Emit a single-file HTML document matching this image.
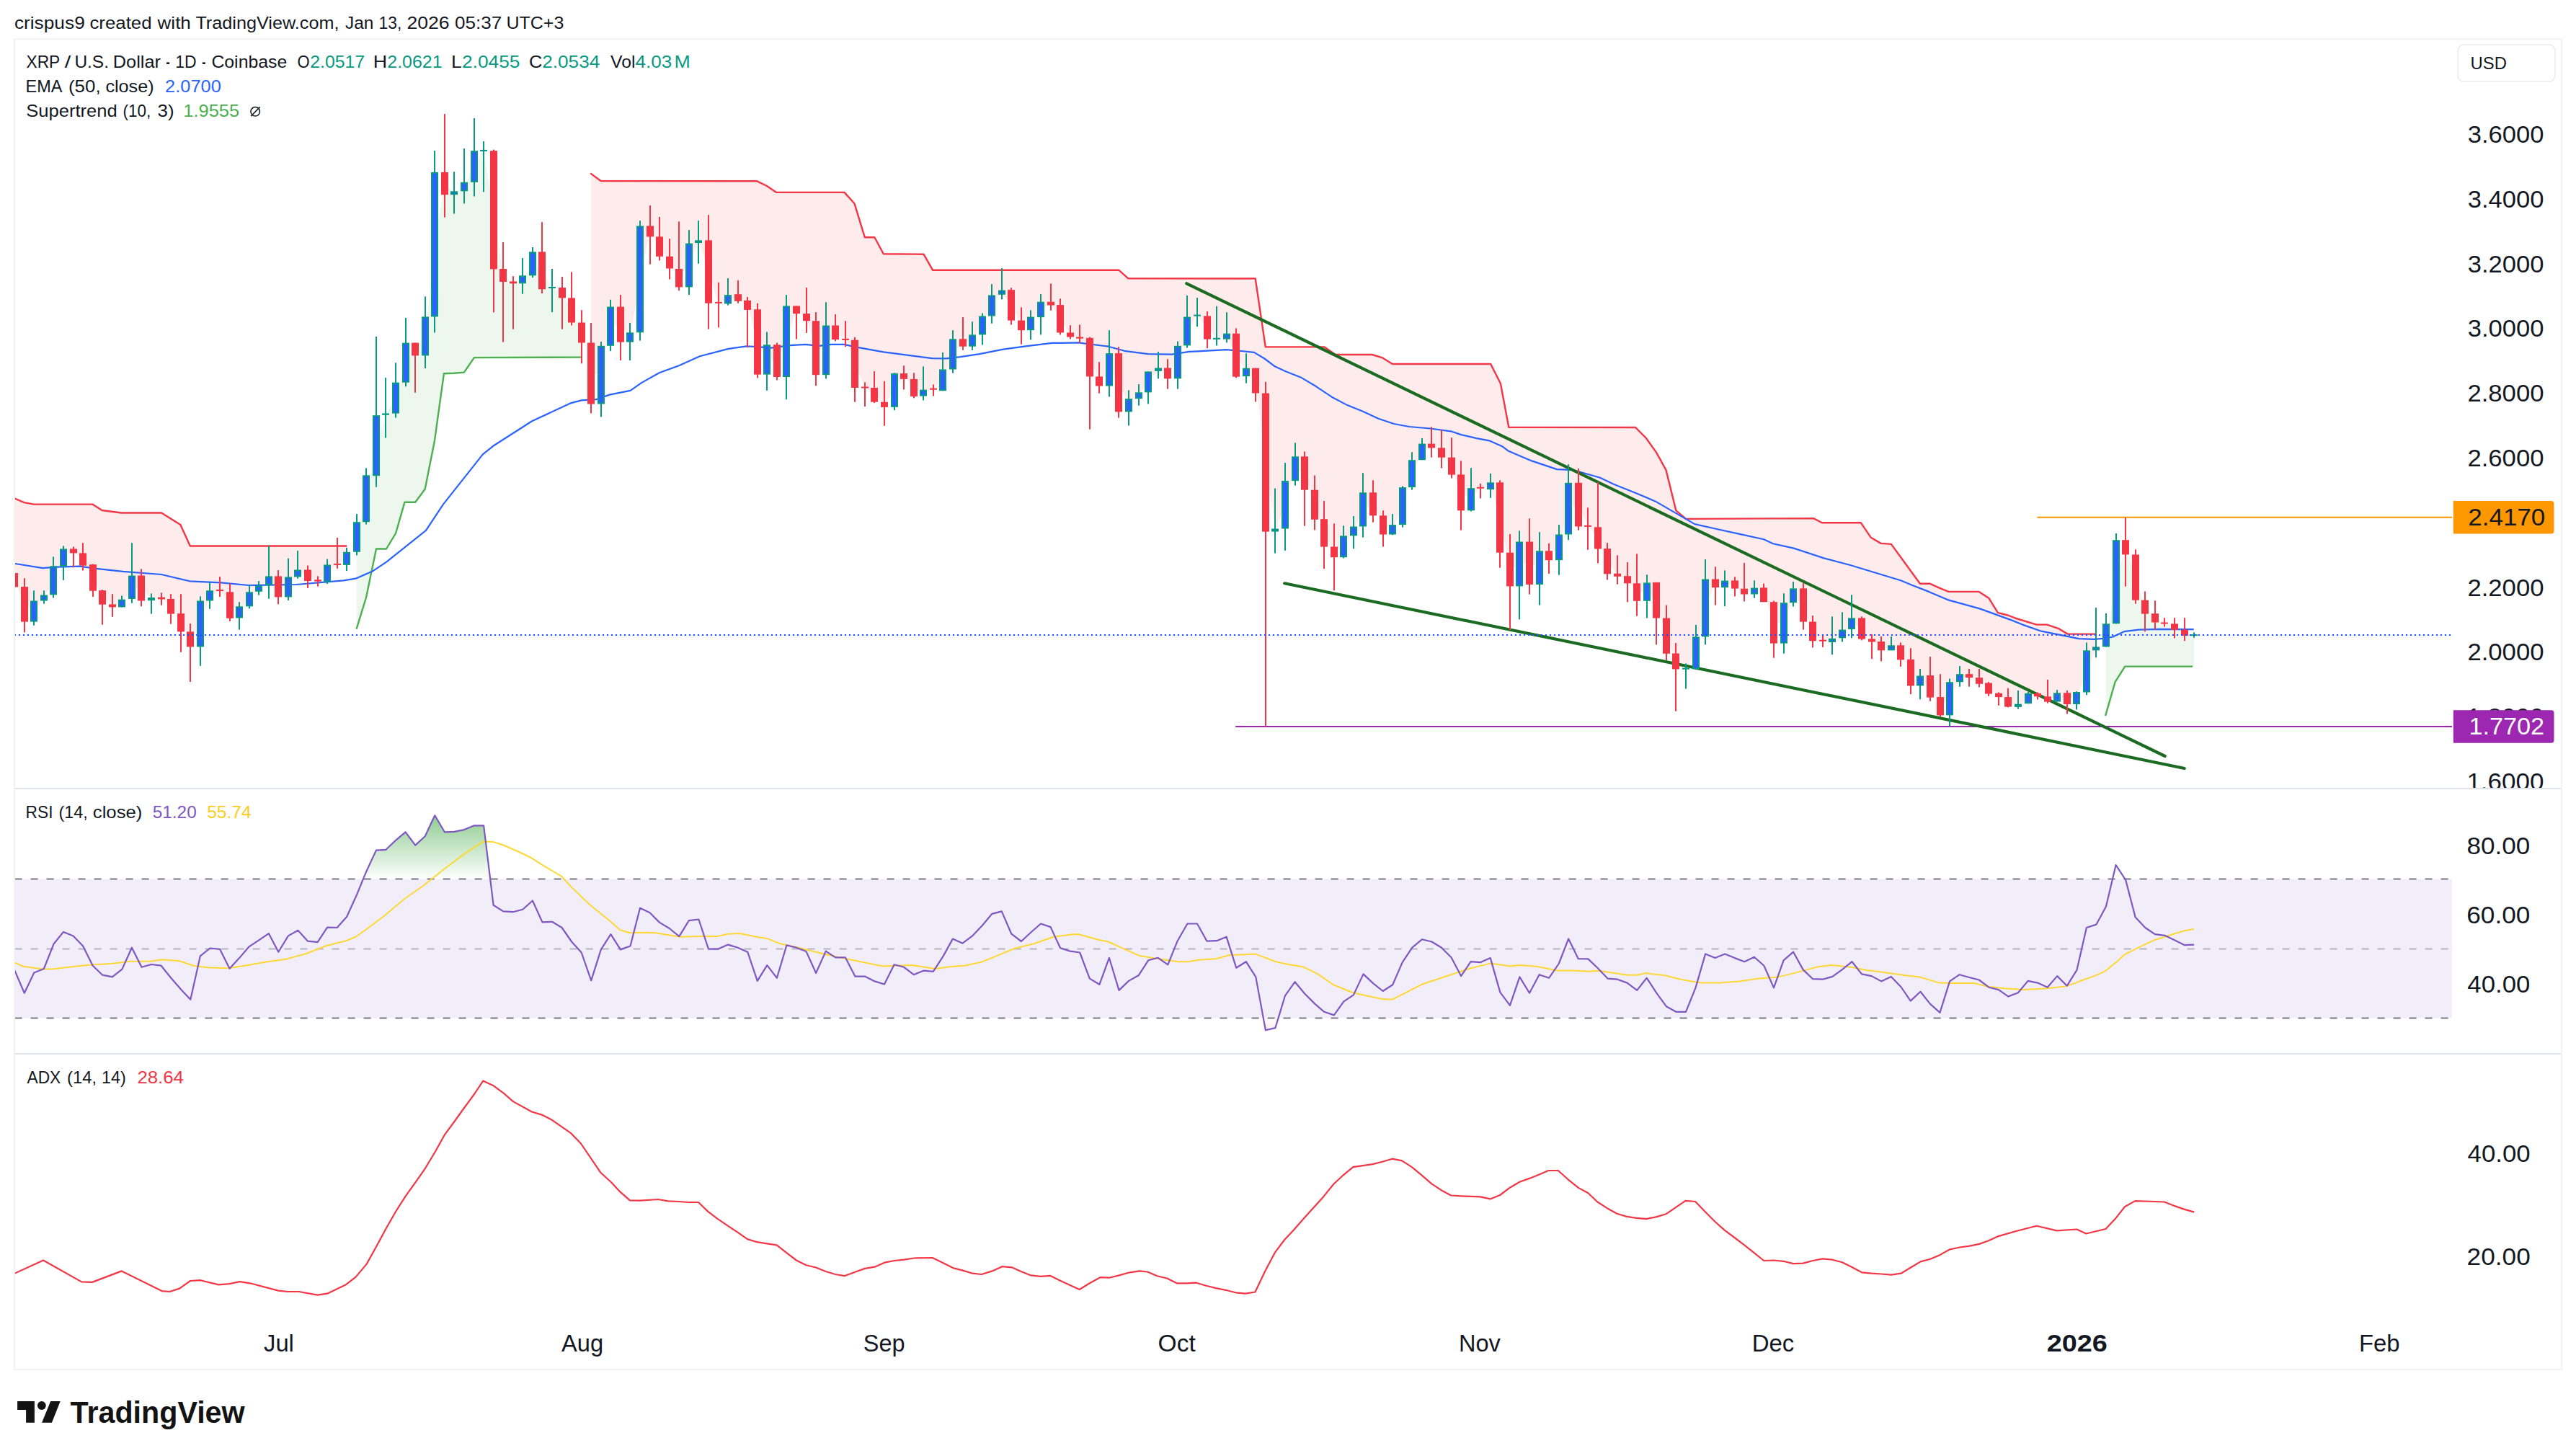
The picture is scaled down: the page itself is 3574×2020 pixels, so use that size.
<!DOCTYPE html><html><head><meta charset="utf-8"><style>html,body{margin:0;padding:0;background:#fff;}body{width:3574px;height:2020px;overflow:hidden;}svg{display:block;font-family:"Liberation Sans",sans-serif;}</style></head><body>
<svg width="3574" height="2020" viewBox="0 0 3574 2020">
<defs>
<clipPath id="cm"><rect x="21" y="55.3" width="3381" height="1037.7"/></clipPath>
<clipPath id="cr"><rect x="21" y="1095" width="3381" height="366"/></clipPath>
<clipPath id="ca"><rect x="21" y="1463" width="3381" height="436"/></clipPath>
<linearGradient id="gob" gradientUnits="userSpaceOnUse" x1="0" y1="1077.5" x2="0" y2="1221.2"><stop offset="0" stop-color="#4CAF50" stop-opacity="1"/><stop offset="1" stop-color="#4CAF50" stop-opacity="0"/></linearGradient>
<linearGradient id="gos" gradientUnits="userSpaceOnUse" x1="0" y1="1412.8" x2="0" y2="1556.5"><stop offset="0" stop-color="#F23645" stop-opacity="0"/><stop offset="1" stop-color="#F23645" stop-opacity="1"/></linearGradient>
<clipPath id="cob"><rect x="0" y="0" width="3574" height="1221.2"/></clipPath>
<clipPath id="cos"><rect x="0" y="1412.8" width="3574" height="400"/></clipPath>
</defs>
<rect width="3574" height="2020" fill="#fff"/>
<text x="19.9" y="39.7" font-size="24" fill="#131722" textLength="97.86" lengthAdjust="spacingAndGlyphs">crispus9</text>
<text x="124.4" y="39.7" font-size="24" fill="#131722" textLength="86.16" lengthAdjust="spacingAndGlyphs">created</text>
<text x="218.6" y="39.7" font-size="24" fill="#131722" textLength="46.25" lengthAdjust="spacingAndGlyphs">with</text>
<text x="271.4" y="39.7" font-size="24" fill="#131722" textLength="199.09" lengthAdjust="spacingAndGlyphs">TradingView.com,</text>
<text x="479.1" y="39.7" font-size="24" fill="#131722" textLength="39.26" lengthAdjust="spacingAndGlyphs">Jan</text>
<text x="525.6" y="39.7" font-size="24" fill="#131722" textLength="31.80" lengthAdjust="spacingAndGlyphs">13,</text>
<text x="564.5" y="39.7" font-size="24" fill="#131722" textLength="59.10" lengthAdjust="spacingAndGlyphs">2026</text>
<text x="631.1" y="39.7" font-size="24" fill="#131722" textLength="65.23" lengthAdjust="spacingAndGlyphs">05:37</text>
<text x="702.4" y="39.7" font-size="24" fill="#131722" textLength="79.93" lengthAdjust="spacingAndGlyphs">UTC+3</text>
<rect x="20" y="54.3" width="3534" height="1845.7" fill="none" stroke="#F2F2F2" stroke-width="2"/>
<g clip-path="url(#cm)">
<polygon points="20.2,691.4 33.8,697.1 47.3,699.6 60.9,699.6 74.4,699.6 88,699.6 101.6,699.6 115.1,699.6 128.7,699.9 142.2,708.1 155.8,709.9 169.4,711.5 182.9,711.5 196.5,711.5 210,711.5 223.6,711.5 237.2,719.7 250.7,728.7 264.3,757.5 277.8,757.5 291.4,757.5 305,757.5 318.5,757.5 332.1,757.5 345.6,757.5 359.2,757.5 372.8,757.5 386.3,757.5 399.9,757.5 413.4,757.5 427,757.5 440.6,757.5 454.1,757.5 467.7,757.5 481.2,757.5 481.2,774.8 467.7,782.9 454.1,795.5 440.6,805.5 427,798.2 413.4,795.5 399.9,814.4 386.3,813.9 372.8,805.6 359.2,816.7 345.6,831.3 332.1,849.3 318.5,839.5 305,819 291.4,826.4 277.8,865.5 264.3,886.9 250.7,863.8 237.2,841.3 223.6,830 210,831 196.5,816 182.9,814.8 169.4,837 155.8,840.4 142.2,828.9 128.7,801.5 115.1,776 101.6,764.4 88,773.5 74.4,805.3 60.9,829.5 47.3,848 33.8,838.4 20.2,804.8" fill="#FEECEC"/>
<polygon points="820.2,241.2 833.8,251 847.4,251 860.9,251 874.5,251.1 888,251.1 901.6,251.1 915.2,251.1 928.7,251.1 942.3,251.2 955.8,251.2 969.4,251.2 983,251.2 996.5,251.2 1010.1,251.2 1023.6,251.3 1037.2,251.3 1050.8,251.6 1064.3,258.2 1077.9,266.9 1091.4,266.9 1105,266.9 1118.6,266.9 1132.1,266.9 1145.7,266.9 1159.2,266.9 1172.8,268.3 1186.4,285.3 1199.9,329.2 1213.5,329.3 1227,352.3 1240.6,352.4 1254.2,352.5 1267.7,352.6 1281.3,352.7 1294.8,374.7 1308.4,374.7 1322,374.7 1335.5,374.7 1349.1,374.7 1362.6,374.7 1376.2,374.7 1389.8,374.7 1403.3,374.7 1416.9,374.7 1430.4,374.7 1444,374.7 1457.6,374.7 1471.1,374.7 1484.7,374.7 1498.2,374.7 1511.8,374.7 1525.4,374.7 1538.9,374.7 1552.5,374.9 1566,386.4 1579.6,386.4 1593.2,386.4 1606.7,386.4 1620.3,386.4 1633.8,386.4 1647.4,386.4 1661,386.5 1674.5,386.5 1688.1,386.5 1701.6,386.5 1715.2,386.5 1728.8,386.5 1742.3,390.7 1755.9,481.4 1769.4,481.4 1783,481.4 1796.6,481.4 1810.1,481.4 1823.7,481.4 1837.2,481.4 1850.8,490.6 1864.4,492 1877.9,492 1891.5,492 1905,492.4 1918.6,496.8 1932.2,505 1945.7,505 1959.3,505 1972.8,505 1986.4,505 2000,505 2013.5,505 2027.1,505 2040.6,505 2054.2,505 2067.8,505 2081.3,530.9 2094.9,592.7 2108.4,592.7 2122,592.7 2135.6,592.8 2149.1,592.8 2162.7,592.8 2176.2,592.8 2189.8,592.9 2203.4,592.9 2216.9,592.9 2230.5,592.9 2244,593 2257.6,593 2271.2,595.1 2284.7,609.1 2298.3,628.1 2311.8,653.5 2325.4,708.4 2339,719.7 2352.5,719.8 2366.1,719.8 2379.6,719.7 2393.2,719.7 2406.8,719.6 2420.3,719.5 2433.9,719.5 2447.4,719.4 2461,719.3 2474.6,719.3 2488.1,719.2 2501.7,719.2 2515.2,719.1 2528.8,725.3 2542.4,725.3 2555.9,725.3 2569.5,725.3 2583,727 2596.6,746.2 2610.2,753.9 2623.7,754.9 2637.3,773.2 2650.8,791.8 2664.4,809.7 2678,810 2691.5,816.1 2705.1,820.9 2718.6,820.9 2732.2,820.9 2745.8,820.9 2759.3,829.9 2772.9,850.3 2786.4,853.8 2800,858.8 2813.6,862.9 2827.1,866.6 2840.7,866.8 2854.2,871.3 2867.8,879.1 2881.4,879.6 2894.9,879.6 2908.5,879.6 2908.5,899.8 2894.9,931.4 2881.4,968.5 2867.8,969.1 2854.2,967.5 2840.7,970 2827.1,964 2813.6,969 2800,978.8 2786.4,973.9 2772.9,964.5 2759.3,955 2745.8,944.5 2732.2,937.7 2718.6,940.7 2705.1,969.3 2691.5,979.8 2678,952.3 2664.4,944.5 2650.8,933.1 2637.3,905.3 2623.7,898.8 2610.2,896.2 2596.6,888.5 2583,872 2569.5,865.2 2555.9,879.5 2542.4,888.4 2528.8,888.7 2515.2,875.9 2501.7,839.5 2488.1,826.3 2474.6,864.4 2461,863.9 2447.4,825.3 2433.9,820 2420.3,820.6 2406.8,811 2393.2,810.4 2379.6,809.3 2366.1,843.5 2352.5,905.9 2339,927.7 2325.4,917.5 2311.8,882.1 2298.3,832.7 2284.7,821.1 2271.2,821.5 2257.6,804.2 2244,797.8 2230.5,778.7 2216.9,746.4 2203.4,729.9 2189.8,700.1 2176.2,705.6 2162.7,759.4 2149.1,770.8 2135.6,787.6 2122,781.2 2108.4,782.5 2094.9,790 2081.3,718 2067.8,674.2 2054.2,676.7 2040.6,692.8 2027.1,683.3 2013.5,646.7 2000,628 1986.4,618.5 1972.8,626.9 1959.3,657.2 1945.7,702.1 1932.2,734.8 1918.6,728.4 1905,699.3 1891.5,706.9 1877.9,736.9 1864.4,758.2 1850.8,765.9 1837.2,739.4 1823.7,700.2 1810.1,656.5 1796.6,650.2 1783,700.3 1769.4,735.5 1755.9,641.5 1742.3,528.1 1728.8,516.4 1715.2,492.7 1701.6,466.6 1688.1,469.8 1674.5,454.5 1661,437.6 1647.4,459.5 1633.8,502.5 1620.3,517.9 1606.7,512.7 1593.2,529.9 1579.6,548.8 1566,562.3 1552.5,530.8 1538.9,512.9 1525.4,529 1511.8,495.6 1498.2,468.6 1484.7,464.5 1471.1,442.3 1457.6,421.1 1444,429.4 1430.4,448.9 1416.9,451.4 1403.3,423.4 1389.8,405.7 1376.2,424 1362.6,451.4 1349.1,472.5 1335.5,475.5 1322,491.4 1308.4,527.4 1294.8,539.7 1281.3,545.1 1267.7,538 1254.2,522 1240.6,541.5 1227,561.3 1213.5,547.9 1199.9,537.5 1186.4,504.9 1172.8,470.9 1159.2,461.3 1145.7,485.9 1132.1,482.7 1118.6,440.1 1105,429.8 1091.4,473.7 1077.9,500.6 1064.3,499 1050.8,474.5 1037.2,423.4 1023.6,413 1010.1,415.3 996.5,419.9 983,377 969.4,335.1 955.8,368 942.3,385.7 928.7,364.1 915.2,342.1 901.6,320.9 888,387.4 874.5,468 860.9,450.1 847.4,452.7 833.8,520.1 820.2,518" fill="#FEECEC"/>
<polygon points="494.8,871.9 508.4,827.3 521.9,761.9 535.5,761.5 549,739.9 562.6,696.7 576.2,696.7 589.7,678.4 603.3,609.2 616.8,518.3 630.4,517.8 644,516.5 657.5,496.7 671.1,496.1 684.6,496 698.2,496 711.8,495.9 725.3,495.9 738.9,495.8 752.4,495.8 766,495.7 779.6,495.7 793.1,495.6 806.7,495.6 806.7,461.5 793.1,430.4 779.6,406.2 766,399 752.4,375.4 738.9,365.9 725.3,387.8 711.8,391.9 698.2,382 684.6,291.3 671.1,208.9 657.5,231 644,259.1 630.4,267.8 616.8,254.6 603.3,339.1 589.7,466.4 576.2,484.5 562.6,503.2 549,552.2 535.5,574.6 521.9,618.2 508.4,691.8 494.8,745" fill="#EDF7EE"/>
<polygon points="2922,989.9 2935.6,944.6 2949.2,924.6 2962.7,924.6 2976.3,924.6 2989.8,924.6 3003.4,924.6 3017,924.6 3030.5,924.6 3044.1,924.6 3044.1,881.1 3030.5,877.8 3017,869.5 3003.4,864.5 2989.8,857.4 2976.3,842.1 2962.7,801 2949.2,759.3 2935.6,807.2 2922,881.3" fill="#EDF7EE"/>
<polyline points="20,691.3 33.5,697.1 46.8,699.6 128.2,699.6 141.6,708 168.4,711.5 224,711.5 250.4,728 263.8,757.5 481.2,757.5" fill="none" stroke="#F23645" stroke-width="2.4" stroke-linejoin="round"/>
<polyline points="819.2,240.4 833.6,251 1050.2,251.3 1064,258 1077.2,266.9 1171.5,266.9 1185.4,282.2 1199.8,329.2 1213.4,329.2 1225.8,352.3 1281.5,352.7 1294,374.7 1552.2,374.7 1565.4,386.4 1741.7,386.5 1755.8,481.4 1837.7,481.4 1852.8,492 1903.7,492 1917.4,496.1 1931.8,505 2068.2,505 2081.9,532 2093.3,592.7 2269.1,593 2283.5,607.4 2298,627.6 2311.5,652.1 2325.4,708.4 2339.2,719.9 2516.1,719.1 2527.9,725.3 2581.9,725.3 2595.7,745.7 2609.6,753.9 2623.9,754.9 2663.9,809.7 2677.4,809.7 2690.5,815.7 2703.5,820.9 2745.8,820.9 2759.6,830.1 2771.9,850.1 2785.7,853.5 2795.7,857.5 2825.7,866.6 2840,866.6 2855.7,871.8 2868.7,879.6 2907.5,879.6" fill="none" stroke="#F23645" stroke-width="2.4" stroke-linejoin="round"/>
<polyline points="494.6,872.6 508,829 522,761.5 536,761.5 549,740 561.5,696.7 576.2,696.7 589.7,678.5 603,611.2 615.9,518.3 629.9,517.8 643.9,516.6 657.9,496.1 806.5,495.6" fill="none" stroke="#4CAF50" stroke-width="2.4" stroke-linejoin="round"/>
<polyline points="2921.1,993.2 2934.6,946.2 2948.2,924.6 3042.2,924.6" fill="none" stroke="#4CAF50" stroke-width="2.4" stroke-linejoin="round"/>
<polyline points="21,782 59.2,788.2 79.8,786.7 110.7,785.7 133.4,788.8 170.5,792.9 224,797 263.2,806.3 306.5,808.4 345,812 358,811.9 411,811 476.9,805.3 493.4,802.7 516.4,792.8 536.2,779.6 591,735.8 615,699.6 669.8,630.4 684.2,618.8 738.1,584.2 792.4,559.1 806.8,555.4 827,554.2 845.8,547.6 874.6,541.8 890,531.1 914.6,517.3 942,507.2 970.9,494.2 1009.8,484.1 1035.8,480.4 1050.2,481.2 1070.4,482.7 1096,479.2 1117.6,477.8 1136.3,479.8 1153.6,477.8 1171,477.8 1191.1,482.1 1225.8,488.4 1269.9,494.2 1293,497.1 1312.7,497.4 1332.5,495.2 1358.9,491.2 1391.9,484.6 1424.8,480.2 1460,475.8 1472,475.8 1496.2,475.4 1516,478 1537.9,480.7 1559.9,486.8 1592.9,491.2 1625.8,491.6 1650,487.9 1662,487.3 1701.6,485.1 1722.1,487 1740,488.9 1754.4,497.5 1768.7,508.3 1783.1,515 1804.6,523.4 1826.2,536.3 1847.7,550.7 1869.3,562.1 1890.8,570.8 1912.4,580.8 1933.9,588 1955.5,592 1984.2,594.5 2012.9,598.3 2027.3,603.1 2048.8,608.1 2066.1,611.3 2084.7,619.6 2092.4,625.4 2125.1,639.4 2160.1,651.1 2183.5,652.2 2220,662.8 2238.8,671.7 2270.6,684.4 2296.5,695.4 2325.4,712.1 2351.3,727.1 2383.1,734.3 2410,740.1 2447,748.3 2460,754.3 2488.7,760.6 2530.5,774.4 2567,784 2600,794 2637,805.3 2652.6,811.8 2676.1,820.9 2702.2,832.1 2746.6,844.4 2790,860.1 2806.1,866.6 2832.2,875.7 2858.3,880.9 2884.4,886.2 2905.3,886.9 2920.9,885.6 2931.4,883.5 2947,876.2 2967.5,873.7 2995,872.9 3043.8,873.1" fill="none" stroke="#2962FF" stroke-width="2.2" stroke-linejoin="round"/>
<line x1="2826.4" y1="717.8" x2="3402" y2="717.8" stroke="#FF9800" stroke-width="2"/>
<line x1="1714.2" y1="1008" x2="3402" y2="1008" stroke="#9C27B0" stroke-width="2.2"/>
<line x1="1646.3" y1="393.3" x2="3003.7" y2="1049" stroke="#1B6B22" stroke-width="4.2" stroke-linecap="round"/>
<line x1="1782.2" y1="809.3" x2="3030.7" y2="1066" stroke="#1B6B22" stroke-width="4.2" stroke-linecap="round"/>
<rect x="19" y="790" width="2" height="28" fill="#F23645"/>
<rect x="15" y="795" width="10" height="19.5" fill="#F23645"/>
<rect x="33" y="802.2" width="2" height="75.2" fill="#F23645"/>
<rect x="29" y="814.1" width="10" height="48.5" fill="#F23645"/>
<rect x="46" y="819.3" width="2" height="48.4" fill="#089981"/>
<rect x="42" y="833.5" width="10" height="29.1" fill="#089981"/>
<rect x="44" y="835.5" width="6" height="25.1" fill="#2962FF"/>
<rect x="60" y="819.3" width="2" height="18.3" fill="#089981"/>
<rect x="56" y="825.5" width="10" height="8" fill="#089981"/>
<rect x="58" y="827.5" width="6" height="4" fill="#2962FF"/>
<rect x="73" y="772.3" width="2" height="57.1" fill="#089981"/>
<rect x="69" y="785.3" width="10" height="40" fill="#089981"/>
<rect x="71" y="787.3" width="6" height="36" fill="#2962FF"/>
<rect x="87" y="757.3" width="2" height="47.6" fill="#089981"/>
<rect x="83" y="761.4" width="10" height="24.3" fill="#089981"/>
<rect x="85" y="763.4" width="6" height="20.3" fill="#2962FF"/>
<rect x="101" y="758.5" width="2" height="28.8" fill="#F23645"/>
<rect x="97" y="761.4" width="10" height="6" fill="#F23645"/>
<rect x="114" y="753.3" width="2" height="38.2" fill="#F23645"/>
<rect x="110" y="767.4" width="10" height="17.3" fill="#F23645"/>
<rect x="128" y="782.6" width="2" height="45.3" fill="#F23645"/>
<rect x="124" y="783.2" width="10" height="36.5" fill="#F23645"/>
<rect x="141" y="818.3" width="2" height="48.4" fill="#F23645"/>
<rect x="137" y="819.1" width="10" height="19.6" fill="#F23645"/>
<rect x="155" y="824.2" width="2" height="31.6" fill="#F23645"/>
<rect x="151" y="838.4" width="10" height="4" fill="#F23645"/>
<rect x="168" y="826.5" width="2" height="15.9" fill="#089981"/>
<rect x="164" y="831.6" width="10" height="10.8" fill="#089981"/>
<rect x="166" y="833.6" width="6" height="6.8" fill="#2962FF"/>
<rect x="182" y="753.3" width="2" height="83.3" fill="#089981"/>
<rect x="178" y="798.5" width="10" height="32.5" fill="#089981"/>
<rect x="180" y="800.5" width="6" height="28.5" fill="#2962FF"/>
<rect x="195" y="789.4" width="2" height="51.9" fill="#F23645"/>
<rect x="191" y="798.5" width="10" height="35" fill="#F23645"/>
<rect x="209" y="823.4" width="2" height="28.2" fill="#089981"/>
<rect x="205" y="829" width="10" height="4.1" fill="#089981"/>
<rect x="207" y="831" width="6" height="0.1" fill="#2962FF"/>
<rect x="223" y="822.4" width="2" height="17.3" fill="#F23645"/>
<rect x="219" y="828.6" width="10" height="2.8" fill="#F23645"/>
<rect x="236" y="824.2" width="2" height="41.4" fill="#F23645"/>
<rect x="232" y="831" width="10" height="20.6" fill="#F23645"/>
<rect x="250" y="824.2" width="2" height="80.6" fill="#F23645"/>
<rect x="246" y="851.2" width="10" height="25.2" fill="#F23645"/>
<rect x="263" y="865" width="2" height="81" fill="#F23645"/>
<rect x="259" y="876.4" width="10" height="21" fill="#F23645"/>
<rect x="277" y="827.3" width="2" height="96.5" fill="#089981"/>
<rect x="273" y="833.5" width="10" height="63.9" fill="#089981"/>
<rect x="275" y="835.5" width="6" height="59.9" fill="#2962FF"/>
<rect x="290" y="808" width="2" height="36.8" fill="#089981"/>
<rect x="286" y="819.3" width="10" height="14.2" fill="#089981"/>
<rect x="288" y="821.3" width="6" height="10.2" fill="#2962FF"/>
<rect x="304" y="800.1" width="2" height="27.8" fill="#F23645"/>
<rect x="300" y="818" width="10" height="2" fill="#F23645"/>
<rect x="318" y="809.4" width="2" height="52.6" fill="#F23645"/>
<rect x="314" y="821.3" width="10" height="36.5" fill="#F23645"/>
<rect x="331" y="835.2" width="2" height="38.5" fill="#089981"/>
<rect x="327" y="841.3" width="10" height="16.1" fill="#089981"/>
<rect x="329" y="843.3" width="6" height="12.1" fill="#2962FF"/>
<rect x="345" y="811.5" width="2" height="32.9" fill="#089981"/>
<rect x="341" y="821.3" width="10" height="20" fill="#089981"/>
<rect x="343" y="823.3" width="6" height="16" fill="#2962FF"/>
<rect x="358" y="806" width="2" height="19.7" fill="#089981"/>
<rect x="354" y="812.6" width="10" height="8.2" fill="#089981"/>
<rect x="356" y="814.6" width="6" height="4.2" fill="#2962FF"/>
<rect x="372" y="757.2" width="2" height="73.5" fill="#089981"/>
<rect x="368" y="799.4" width="10" height="12.5" fill="#089981"/>
<rect x="370" y="801.4" width="6" height="8.5" fill="#2962FF"/>
<rect x="385" y="791.1" width="2" height="47.2" fill="#F23645"/>
<rect x="381" y="799.4" width="10" height="29" fill="#F23645"/>
<rect x="399" y="774.6" width="2" height="58.4" fill="#089981"/>
<rect x="395" y="800.4" width="10" height="28" fill="#089981"/>
<rect x="397" y="802.4" width="6" height="24" fill="#2962FF"/>
<rect x="412" y="764.1" width="2" height="38.6" fill="#089981"/>
<rect x="408" y="790.5" width="10" height="9.9" fill="#089981"/>
<rect x="410" y="792.5" width="6" height="5.9" fill="#2962FF"/>
<rect x="426" y="784.5" width="2" height="31.4" fill="#F23645"/>
<rect x="422" y="790.5" width="10" height="15.5" fill="#F23645"/>
<rect x="440" y="799.4" width="2" height="14.2" fill="#F23645"/>
<rect x="436" y="804.3" width="10" height="2.3" fill="#F23645"/>
<rect x="453" y="775.6" width="2" height="34.4" fill="#089981"/>
<rect x="449" y="783.5" width="10" height="24.1" fill="#089981"/>
<rect x="451" y="785.5" width="6" height="20.1" fill="#2962FF"/>
<rect x="467" y="746" width="2" height="42.8" fill="#F23645"/>
<rect x="463" y="781.9" width="10" height="2" fill="#F23645"/>
<rect x="480" y="759.8" width="2" height="32.3" fill="#089981"/>
<rect x="476" y="765.8" width="10" height="18.1" fill="#089981"/>
<rect x="478" y="767.8" width="6" height="14.1" fill="#2962FF"/>
<rect x="494" y="713" width="2" height="57.4" fill="#089981"/>
<rect x="490" y="724.2" width="10" height="41.6" fill="#089981"/>
<rect x="492" y="726.2" width="6" height="37.6" fill="#2962FF"/>
<rect x="507" y="649.4" width="2" height="78.1" fill="#089981"/>
<rect x="503" y="659.3" width="10" height="64.9" fill="#089981"/>
<rect x="505" y="661.3" width="6" height="60.9" fill="#2962FF"/>
<rect x="521" y="467" width="2" height="208.7" fill="#089981"/>
<rect x="517" y="576.2" width="10" height="84" fill="#089981"/>
<rect x="519" y="578.2" width="6" height="80" fill="#2962FF"/>
<rect x="534" y="524.1" width="2" height="83.4" fill="#089981"/>
<rect x="530" y="573.5" width="10" height="2.3" fill="#089981"/>
<rect x="548" y="503.3" width="2" height="76.2" fill="#089981"/>
<rect x="544" y="530.7" width="10" height="42.9" fill="#089981"/>
<rect x="546" y="532.7" width="6" height="38.9" fill="#2962FF"/>
<rect x="562" y="441" width="2" height="95.3" fill="#089981"/>
<rect x="558" y="475.6" width="10" height="55.1" fill="#089981"/>
<rect x="560" y="477.6" width="6" height="51.1" fill="#2962FF"/>
<rect x="575" y="475.6" width="2" height="69.3" fill="#F23645"/>
<rect x="571" y="475.6" width="10" height="17.8" fill="#F23645"/>
<rect x="589" y="411.3" width="2" height="99.7" fill="#089981"/>
<rect x="585" y="439.4" width="10" height="54" fill="#089981"/>
<rect x="587" y="441.4" width="6" height="50" fill="#2962FF"/>
<rect x="602" y="209.2" width="2" height="252.3" fill="#089981"/>
<rect x="598" y="238.9" width="10" height="200.5" fill="#089981"/>
<rect x="600" y="240.9" width="6" height="196.5" fill="#2962FF"/>
<rect x="616" y="158.1" width="2" height="143.5" fill="#F23645"/>
<rect x="612" y="238.9" width="10" height="31.3" fill="#F23645"/>
<rect x="629" y="238.3" width="2" height="58.3" fill="#089981"/>
<rect x="625" y="265.3" width="10" height="4.9" fill="#089981"/>
<rect x="627" y="267.3" width="6" height="0.9" fill="#2962FF"/>
<rect x="643" y="206" width="2" height="76.4" fill="#089981"/>
<rect x="639" y="252.8" width="10" height="12.5" fill="#089981"/>
<rect x="641" y="254.8" width="6" height="8.5" fill="#2962FF"/>
<rect x="657" y="164" width="2" height="108.5" fill="#089981"/>
<rect x="653" y="209.2" width="10" height="43.6" fill="#089981"/>
<rect x="655" y="211.2" width="6" height="39.6" fill="#2962FF"/>
<rect x="670" y="196" width="2" height="70.3" fill="#089981"/>
<rect x="666" y="207.9" width="10" height="2" fill="#089981"/>
<rect x="684" y="207.6" width="2" height="225.8" fill="#F23645"/>
<rect x="680" y="209.2" width="10" height="164.2" fill="#F23645"/>
<rect x="697" y="336.1" width="2" height="138.5" fill="#F23645"/>
<rect x="693" y="373" width="10" height="18" fill="#F23645"/>
<rect x="711" y="383.2" width="2" height="73.5" fill="#F23645"/>
<rect x="707" y="390.4" width="10" height="2.9" fill="#F23645"/>
<rect x="724" y="358" width="2" height="49.7" fill="#089981"/>
<rect x="720" y="382.3" width="10" height="11" fill="#089981"/>
<rect x="722" y="384.3" width="6" height="7" fill="#2962FF"/>
<rect x="738" y="343" width="2" height="42.2" fill="#089981"/>
<rect x="734" y="349.4" width="10" height="32.9" fill="#089981"/>
<rect x="736" y="351.4" width="6" height="28.9" fill="#2962FF"/>
<rect x="751" y="308.2" width="2" height="98.9" fill="#F23645"/>
<rect x="747" y="349.4" width="10" height="51.9" fill="#F23645"/>
<rect x="765" y="373" width="2" height="60.1" fill="#089981"/>
<rect x="761" y="398" width="10" height="2" fill="#089981"/>
<rect x="779" y="384" width="2" height="72.7" fill="#F23645"/>
<rect x="775" y="399" width="10" height="14.4" fill="#F23645"/>
<rect x="792" y="377.4" width="2" height="74.1" fill="#F23645"/>
<rect x="788" y="413.4" width="10" height="34.1" fill="#F23645"/>
<rect x="806" y="430.2" width="2" height="74.1" fill="#F23645"/>
<rect x="802" y="447.5" width="10" height="28" fill="#F23645"/>
<rect x="819" y="448" width="2" height="125.5" fill="#F23645"/>
<rect x="815" y="475.5" width="10" height="85" fill="#F23645"/>
<rect x="833" y="474" width="2" height="104.4" fill="#089981"/>
<rect x="829" y="479.8" width="10" height="80.7" fill="#089981"/>
<rect x="831" y="481.8" width="6" height="76.7" fill="#2962FF"/>
<rect x="846" y="415.7" width="2" height="71.3" fill="#089981"/>
<rect x="842" y="425.6" width="10" height="54.2" fill="#089981"/>
<rect x="844" y="427.6" width="6" height="50.2" fill="#2962FF"/>
<rect x="860" y="409.1" width="2" height="90.9" fill="#F23645"/>
<rect x="856" y="425.6" width="10" height="49" fill="#F23645"/>
<rect x="873" y="448" width="2" height="52" fill="#089981"/>
<rect x="869" y="461.3" width="10" height="13.3" fill="#089981"/>
<rect x="871" y="463.3" width="6" height="9.3" fill="#2962FF"/>
<rect x="887" y="306.1" width="2" height="166.5" fill="#089981"/>
<rect x="883" y="313.4" width="10" height="147.9" fill="#089981"/>
<rect x="885" y="315.4" width="6" height="143.9" fill="#2962FF"/>
<rect x="901" y="285.1" width="2" height="81.6" fill="#F23645"/>
<rect x="897" y="313.4" width="10" height="15" fill="#F23645"/>
<rect x="914" y="301" width="2" height="60.5" fill="#F23645"/>
<rect x="910" y="328.4" width="10" height="27.4" fill="#F23645"/>
<rect x="928" y="331.2" width="2" height="56.3" fill="#F23645"/>
<rect x="924" y="355.8" width="10" height="16.7" fill="#F23645"/>
<rect x="941" y="307.3" width="2" height="96" fill="#F23645"/>
<rect x="937" y="373" width="10" height="25.4" fill="#F23645"/>
<rect x="955" y="319.1" width="2" height="90" fill="#089981"/>
<rect x="951" y="337.6" width="10" height="60.8" fill="#089981"/>
<rect x="953" y="339.6" width="6" height="56.8" fill="#2962FF"/>
<rect x="968" y="306.1" width="2" height="59.7" fill="#089981"/>
<rect x="964" y="333.3" width="10" height="3.7" fill="#089981"/>
<rect x="982" y="298.1" width="2" height="158.6" fill="#F23645"/>
<rect x="978" y="333.3" width="10" height="87.4" fill="#F23645"/>
<rect x="996" y="391.8" width="2" height="62.6" fill="#F23645"/>
<rect x="992" y="418.9" width="10" height="2" fill="#F23645"/>
<rect x="1009" y="386" width="2" height="37.5" fill="#089981"/>
<rect x="1005" y="409.1" width="10" height="12.4" fill="#089981"/>
<rect x="1007" y="411.1" width="6" height="8.4" fill="#2962FF"/>
<rect x="1023" y="388.9" width="2" height="31.8" fill="#F23645"/>
<rect x="1019" y="408.2" width="10" height="9.6" fill="#F23645"/>
<rect x="1036" y="412" width="2" height="70.1" fill="#F23645"/>
<rect x="1032" y="416.9" width="10" height="13" fill="#F23645"/>
<rect x="1050" y="420.7" width="2" height="103.8" fill="#F23645"/>
<rect x="1046" y="429.3" width="10" height="90.3" fill="#F23645"/>
<rect x="1063" y="460.5" width="2" height="81.3" fill="#089981"/>
<rect x="1059" y="478.3" width="10" height="41.3" fill="#089981"/>
<rect x="1061" y="480.3" width="6" height="37.3" fill="#2962FF"/>
<rect x="1077" y="475.5" width="2" height="51.9" fill="#F23645"/>
<rect x="1073" y="478.3" width="10" height="44.7" fill="#F23645"/>
<rect x="1090" y="409.1" width="2" height="145.1" fill="#089981"/>
<rect x="1086" y="424.4" width="10" height="98.6" fill="#089981"/>
<rect x="1088" y="426.4" width="6" height="94.6" fill="#2962FF"/>
<rect x="1104" y="424.4" width="2" height="46.1" fill="#F23645"/>
<rect x="1100" y="424.4" width="10" height="10.7" fill="#F23645"/>
<rect x="1118" y="399" width="2" height="62.9" fill="#F23645"/>
<rect x="1114" y="435.1" width="10" height="10.1" fill="#F23645"/>
<rect x="1131" y="433.1" width="2" height="102.1" fill="#F23645"/>
<rect x="1127" y="445.2" width="10" height="75" fill="#F23645"/>
<rect x="1145" y="419.2" width="2" height="106.2" fill="#089981"/>
<rect x="1141" y="451.5" width="10" height="68.7" fill="#089981"/>
<rect x="1143" y="453.5" width="6" height="64.7" fill="#2962FF"/>
<rect x="1158" y="436" width="2" height="37.4" fill="#F23645"/>
<rect x="1154" y="451.5" width="10" height="19.6" fill="#F23645"/>
<rect x="1172" y="445.2" width="2" height="36" fill="#F23645"/>
<rect x="1168" y="469.9" width="10" height="2" fill="#F23645"/>
<rect x="1185" y="467.7" width="2" height="90" fill="#F23645"/>
<rect x="1181" y="471.7" width="10" height="66.3" fill="#F23645"/>
<rect x="1199" y="530.3" width="2" height="33.7" fill="#F23645"/>
<rect x="1195" y="536.5" width="10" height="2" fill="#F23645"/>
<rect x="1212" y="515" width="2" height="44.1" fill="#F23645"/>
<rect x="1208" y="538" width="10" height="19.7" fill="#F23645"/>
<rect x="1226" y="528.8" width="2" height="62" fill="#F23645"/>
<rect x="1222" y="557.7" width="10" height="7.2" fill="#F23645"/>
<rect x="1240" y="517.3" width="2" height="51.9" fill="#089981"/>
<rect x="1236" y="518.1" width="10" height="46.8" fill="#089981"/>
<rect x="1238" y="520.1" width="6" height="42.8" fill="#2962FF"/>
<rect x="1253" y="507.2" width="2" height="33.2" fill="#F23645"/>
<rect x="1249" y="518.1" width="10" height="7.8" fill="#F23645"/>
<rect x="1267" y="517.3" width="2" height="35" fill="#F23645"/>
<rect x="1263" y="525.9" width="10" height="24.2" fill="#F23645"/>
<rect x="1280" y="508.4" width="2" height="47" fill="#089981"/>
<rect x="1276" y="540.7" width="10" height="8.8" fill="#089981"/>
<rect x="1278" y="542.7" width="6" height="4.8" fill="#2962FF"/>
<rect x="1294" y="533.4" width="2" height="16.1" fill="#F23645"/>
<rect x="1290" y="538.7" width="10" height="2" fill="#F23645"/>
<rect x="1307" y="489" width="2" height="53.2" fill="#089981"/>
<rect x="1303" y="512.5" width="10" height="29.7" fill="#089981"/>
<rect x="1305" y="514.5" width="6" height="25.7" fill="#2962FF"/>
<rect x="1321" y="458.2" width="2" height="59.4" fill="#089981"/>
<rect x="1317" y="470.3" width="10" height="42.2" fill="#089981"/>
<rect x="1319" y="472.3" width="6" height="38.2" fill="#2962FF"/>
<rect x="1335" y="440.2" width="2" height="45.5" fill="#F23645"/>
<rect x="1331" y="470.3" width="10" height="10.4" fill="#F23645"/>
<rect x="1348" y="446.2" width="2" height="39.5" fill="#089981"/>
<rect x="1344" y="464.4" width="10" height="16.3" fill="#089981"/>
<rect x="1346" y="466.4" width="6" height="12.3" fill="#2962FF"/>
<rect x="1362" y="434.5" width="2" height="44" fill="#089981"/>
<rect x="1358" y="438.5" width="10" height="25.9" fill="#089981"/>
<rect x="1360" y="440.5" width="6" height="21.9" fill="#2962FF"/>
<rect x="1375" y="394.1" width="2" height="54.7" fill="#089981"/>
<rect x="1371" y="409.5" width="10" height="29" fill="#089981"/>
<rect x="1373" y="411.5" width="6" height="25" fill="#2962FF"/>
<rect x="1389" y="372.1" width="2" height="43.3" fill="#089981"/>
<rect x="1385" y="402.6" width="10" height="6.2" fill="#089981"/>
<rect x="1387" y="404.6" width="6" height="2.2" fill="#2962FF"/>
<rect x="1402" y="399.3" width="2" height="51.2" fill="#F23645"/>
<rect x="1398" y="402.2" width="10" height="42.4" fill="#F23645"/>
<rect x="1416" y="426.4" width="2" height="51.2" fill="#F23645"/>
<rect x="1412" y="444.6" width="10" height="13.6" fill="#F23645"/>
<rect x="1429" y="430.3" width="2" height="41.1" fill="#089981"/>
<rect x="1425" y="439.6" width="10" height="18.6" fill="#089981"/>
<rect x="1427" y="441.6" width="6" height="14.6" fill="#2962FF"/>
<rect x="1443" y="408.1" width="2" height="56.3" fill="#089981"/>
<rect x="1439" y="418.7" width="10" height="21.5" fill="#089981"/>
<rect x="1441" y="420.7" width="6" height="17.5" fill="#2962FF"/>
<rect x="1457" y="393.4" width="2" height="37.4" fill="#F23645"/>
<rect x="1453" y="418.7" width="10" height="4.8" fill="#F23645"/>
<rect x="1470" y="414.3" width="2" height="50.1" fill="#F23645"/>
<rect x="1466" y="423.1" width="10" height="38.4" fill="#F23645"/>
<rect x="1484" y="451.2" width="2" height="19.1" fill="#F23645"/>
<rect x="1480" y="461.5" width="10" height="6" fill="#F23645"/>
<rect x="1497" y="450.5" width="2" height="25.8" fill="#F23645"/>
<rect x="1493" y="467.5" width="10" height="2.2" fill="#F23645"/>
<rect x="1511" y="467.5" width="2" height="128.1" fill="#F23645"/>
<rect x="1507" y="468.8" width="10" height="53.6" fill="#F23645"/>
<rect x="1524" y="502.2" width="2" height="43.5" fill="#F23645"/>
<rect x="1520" y="522.4" width="10" height="13.2" fill="#F23645"/>
<rect x="1538" y="458.2" width="2" height="92.3" fill="#089981"/>
<rect x="1534" y="490.1" width="10" height="45.5" fill="#089981"/>
<rect x="1536" y="492.1" width="6" height="41.5" fill="#2962FF"/>
<rect x="1551" y="481.3" width="2" height="98.3" fill="#F23645"/>
<rect x="1547" y="490.1" width="10" height="81.3" fill="#F23645"/>
<rect x="1565" y="541.3" width="2" height="49.2" fill="#089981"/>
<rect x="1561" y="553.2" width="10" height="18.2" fill="#089981"/>
<rect x="1563" y="555.2" width="6" height="14.2" fill="#2962FF"/>
<rect x="1579" y="533" width="2" height="29.6" fill="#089981"/>
<rect x="1575" y="544.4" width="10" height="8.8" fill="#089981"/>
<rect x="1577" y="546.4" width="6" height="4.8" fill="#2962FF"/>
<rect x="1592" y="515.4" width="2" height="45" fill="#089981"/>
<rect x="1588" y="515.4" width="10" height="29" fill="#089981"/>
<rect x="1590" y="517.4" width="6" height="25" fill="#2962FF"/>
<rect x="1606" y="487.9" width="2" height="37.4" fill="#089981"/>
<rect x="1602" y="510.5" width="10" height="4.4" fill="#089981"/>
<rect x="1604" y="512.5" width="6" height="0.4" fill="#2962FF"/>
<rect x="1619" y="498.2" width="2" height="41.4" fill="#F23645"/>
<rect x="1615" y="510.5" width="10" height="14.8" fill="#F23645"/>
<rect x="1633" y="473.6" width="2" height="66" fill="#089981"/>
<rect x="1629" y="479.8" width="10" height="45.5" fill="#089981"/>
<rect x="1631" y="481.8" width="6" height="41.5" fill="#2962FF"/>
<rect x="1646" y="409.9" width="2" height="72.7" fill="#089981"/>
<rect x="1642" y="439.6" width="10" height="39.8" fill="#089981"/>
<rect x="1644" y="441.6" width="6" height="35.8" fill="#2962FF"/>
<rect x="1660" y="413.1" width="2" height="40.1" fill="#089981"/>
<rect x="1656" y="436.6" width="10" height="2" fill="#089981"/>
<rect x="1674" y="432" width="2" height="51.2" fill="#F23645"/>
<rect x="1670" y="438.4" width="10" height="32.2" fill="#F23645"/>
<rect x="1687" y="424.8" width="2" height="54.6" fill="#089981"/>
<rect x="1683" y="468.8" width="10" height="2" fill="#089981"/>
<rect x="1701" y="433.3" width="2" height="42" fill="#089981"/>
<rect x="1697" y="462.7" width="10" height="7.9" fill="#089981"/>
<rect x="1699" y="464.7" width="6" height="3.9" fill="#2962FF"/>
<rect x="1714" y="455.4" width="2" height="68.9" fill="#F23645"/>
<rect x="1710" y="462.7" width="10" height="60" fill="#F23645"/>
<rect x="1728" y="490.2" width="2" height="41.4" fill="#089981"/>
<rect x="1724" y="510.7" width="10" height="11.4" fill="#089981"/>
<rect x="1726" y="512.7" width="6" height="7.4" fill="#2962FF"/>
<rect x="1741" y="510.7" width="2" height="46.8" fill="#F23645"/>
<rect x="1737" y="510.7" width="10" height="34.8" fill="#F23645"/>
<rect x="1755" y="529.7" width="2" height="478.3" fill="#F23645"/>
<rect x="1751" y="545.5" width="10" height="192.1" fill="#F23645"/>
<rect x="1768" y="677.5" width="2" height="90.1" fill="#089981"/>
<rect x="1764" y="733.5" width="10" height="4.1" fill="#089981"/>
<rect x="1766" y="735.5" width="6" height="0.1" fill="#2962FF"/>
<rect x="1782" y="642.1" width="2" height="121.7" fill="#089981"/>
<rect x="1778" y="667.1" width="10" height="66.4" fill="#089981"/>
<rect x="1780" y="669.1" width="6" height="62.4" fill="#2962FF"/>
<rect x="1796" y="614.3" width="2" height="59.4" fill="#089981"/>
<rect x="1792" y="633.3" width="10" height="33.8" fill="#089981"/>
<rect x="1794" y="635.3" width="6" height="29.8" fill="#2962FF"/>
<rect x="1809" y="626.4" width="2" height="103.3" fill="#F23645"/>
<rect x="1805" y="633.3" width="10" height="46.4" fill="#F23645"/>
<rect x="1823" y="659.5" width="2" height="75.9" fill="#F23645"/>
<rect x="1819" y="679.7" width="10" height="41.1" fill="#F23645"/>
<rect x="1836" y="695" width="2" height="94" fill="#F23645"/>
<rect x="1832" y="720.2" width="10" height="38.4" fill="#F23645"/>
<rect x="1850" y="726.3" width="2" height="92.9" fill="#F23645"/>
<rect x="1846" y="758.5" width="10" height="14.7" fill="#F23645"/>
<rect x="1863" y="729.3" width="2" height="45.1" fill="#089981"/>
<rect x="1859" y="743.3" width="10" height="29.9" fill="#089981"/>
<rect x="1861" y="745.3" width="6" height="25.9" fill="#2962FF"/>
<rect x="1877" y="716" width="2" height="45.3" fill="#089981"/>
<rect x="1873" y="730.5" width="10" height="12.8" fill="#089981"/>
<rect x="1875" y="732.5" width="6" height="8.8" fill="#2962FF"/>
<rect x="1890" y="656.2" width="2" height="89.5" fill="#089981"/>
<rect x="1886" y="683.3" width="10" height="47.2" fill="#089981"/>
<rect x="1888" y="685.3" width="6" height="43.2" fill="#2962FF"/>
<rect x="1904" y="666.3" width="2" height="58.3" fill="#F23645"/>
<rect x="1900" y="683.3" width="10" height="32" fill="#F23645"/>
<rect x="1918" y="708.3" width="2" height="50.2" fill="#F23645"/>
<rect x="1914" y="715.3" width="10" height="26.2" fill="#F23645"/>
<rect x="1931" y="713" width="2" height="29.2" fill="#089981"/>
<rect x="1927" y="728.1" width="10" height="13.4" fill="#089981"/>
<rect x="1929" y="730.1" width="6" height="9.4" fill="#2962FF"/>
<rect x="1945" y="674.4" width="2" height="57.2" fill="#089981"/>
<rect x="1941" y="676.1" width="10" height="52" fill="#089981"/>
<rect x="1943" y="678.1" width="6" height="48" fill="#2962FF"/>
<rect x="1958" y="627.3" width="2" height="52.3" fill="#089981"/>
<rect x="1954" y="638.2" width="10" height="37.9" fill="#089981"/>
<rect x="1956" y="640.2" width="6" height="33.9" fill="#2962FF"/>
<rect x="1972" y="607.9" width="2" height="30.3" fill="#089981"/>
<rect x="1968" y="615.6" width="10" height="22.6" fill="#089981"/>
<rect x="1970" y="617.6" width="6" height="18.6" fill="#2962FF"/>
<rect x="1985" y="592.2" width="2" height="42.5" fill="#F23645"/>
<rect x="1981" y="615.6" width="10" height="5.8" fill="#F23645"/>
<rect x="1999" y="596.2" width="2" height="53.2" fill="#F23645"/>
<rect x="1995" y="621.4" width="10" height="13.3" fill="#F23645"/>
<rect x="2013" y="607.2" width="2" height="56.3" fill="#F23645"/>
<rect x="2009" y="634.7" width="10" height="23.9" fill="#F23645"/>
<rect x="2026" y="639.4" width="2" height="96.2" fill="#F23645"/>
<rect x="2022" y="658.4" width="10" height="49.9" fill="#F23645"/>
<rect x="2040" y="649.2" width="2" height="60.3" fill="#089981"/>
<rect x="2036" y="677.2" width="10" height="31.1" fill="#089981"/>
<rect x="2038" y="679.2" width="6" height="27.1" fill="#2962FF"/>
<rect x="2053" y="670.9" width="2" height="20.6" fill="#F23645"/>
<rect x="2049" y="675.7" width="10" height="2" fill="#F23645"/>
<rect x="2067" y="656.9" width="2" height="33.9" fill="#089981"/>
<rect x="2063" y="669.3" width="10" height="9.8" fill="#089981"/>
<rect x="2065" y="671.3" width="6" height="5.8" fill="#2962FF"/>
<rect x="2080" y="666.3" width="2" height="121.4" fill="#F23645"/>
<rect x="2076" y="669.3" width="10" height="97.4" fill="#F23645"/>
<rect x="2094" y="741" width="2" height="133.1" fill="#F23645"/>
<rect x="2090" y="766.7" width="10" height="46.7" fill="#F23645"/>
<rect x="2107" y="736.3" width="2" height="123.1" fill="#089981"/>
<rect x="2103" y="751.5" width="10" height="61.9" fill="#089981"/>
<rect x="2105" y="753.5" width="6" height="57.9" fill="#2962FF"/>
<rect x="2121" y="719.3" width="2" height="105.3" fill="#F23645"/>
<rect x="2117" y="751.5" width="10" height="59.5" fill="#F23645"/>
<rect x="2135" y="738.2" width="2" height="101.3" fill="#089981"/>
<rect x="2131" y="764.3" width="10" height="46.7" fill="#089981"/>
<rect x="2133" y="766.3" width="6" height="42.7" fill="#2962FF"/>
<rect x="2148" y="753.8" width="2" height="42.1" fill="#F23645"/>
<rect x="2144" y="764.3" width="10" height="12.9" fill="#F23645"/>
<rect x="2162" y="728.1" width="2" height="69.6" fill="#089981"/>
<rect x="2158" y="741.5" width="10" height="35.7" fill="#089981"/>
<rect x="2160" y="743.5" width="6" height="31.7" fill="#2962FF"/>
<rect x="2175" y="644.1" width="2" height="105.1" fill="#089981"/>
<rect x="2171" y="669.8" width="10" height="71.7" fill="#089981"/>
<rect x="2173" y="671.8" width="6" height="67.7" fill="#2962FF"/>
<rect x="2189" y="649.9" width="2" height="85.7" fill="#F23645"/>
<rect x="2185" y="669.8" width="10" height="60.7" fill="#F23645"/>
<rect x="2202" y="704.3" width="2" height="58.4" fill="#F23645"/>
<rect x="2198" y="728.9" width="10" height="2" fill="#F23645"/>
<rect x="2216" y="668.9" width="2" height="112.5" fill="#F23645"/>
<rect x="2212" y="731.3" width="10" height="30.2" fill="#F23645"/>
<rect x="2229" y="753.1" width="2" height="51.3" fill="#F23645"/>
<rect x="2225" y="761.1" width="10" height="35.2" fill="#F23645"/>
<rect x="2243" y="770.4" width="2" height="40.3" fill="#F23645"/>
<rect x="2239" y="795.7" width="10" height="4.1" fill="#F23645"/>
<rect x="2257" y="779.9" width="2" height="55.4" fill="#F23645"/>
<rect x="2253" y="799.2" width="10" height="10.1" fill="#F23645"/>
<rect x="2270" y="768.3" width="2" height="86.3" fill="#F23645"/>
<rect x="2266" y="809.3" width="10" height="24.5" fill="#F23645"/>
<rect x="2284" y="797.2" width="2" height="60.3" fill="#089981"/>
<rect x="2280" y="808.4" width="10" height="25.4" fill="#089981"/>
<rect x="2282" y="810.4" width="6" height="21.4" fill="#2962FF"/>
<rect x="2297" y="807.9" width="2" height="86.5" fill="#F23645"/>
<rect x="2293" y="807.9" width="10" height="49.6" fill="#F23645"/>
<rect x="2311" y="839.6" width="2" height="76.4" fill="#F23645"/>
<rect x="2307" y="857.5" width="10" height="49.3" fill="#F23645"/>
<rect x="2324" y="892.1" width="2" height="94.6" fill="#F23645"/>
<rect x="2320" y="906.5" width="10" height="21.9" fill="#F23645"/>
<rect x="2338" y="920.4" width="2" height="35.1" fill="#089981"/>
<rect x="2334" y="926.7" width="10" height="2" fill="#089981"/>
<rect x="2352" y="867" width="2" height="61.4" fill="#089981"/>
<rect x="2348" y="883.4" width="10" height="45" fill="#089981"/>
<rect x="2350" y="885.4" width="6" height="41" fill="#2962FF"/>
<rect x="2365" y="776.1" width="2" height="118.3" fill="#089981"/>
<rect x="2361" y="803.5" width="10" height="79.9" fill="#089981"/>
<rect x="2363" y="805.5" width="6" height="75.9" fill="#2962FF"/>
<rect x="2379" y="786.2" width="2" height="53.4" fill="#F23645"/>
<rect x="2375" y="803.5" width="10" height="11.6" fill="#F23645"/>
<rect x="2392" y="791.4" width="2" height="49.6" fill="#089981"/>
<rect x="2388" y="805.6" width="10" height="9.5" fill="#089981"/>
<rect x="2390" y="807.6" width="6" height="5.5" fill="#2962FF"/>
<rect x="2406" y="800.3" width="2" height="27.1" fill="#F23645"/>
<rect x="2402" y="805.4" width="10" height="11.2" fill="#F23645"/>
<rect x="2419" y="780.9" width="2" height="53.5" fill="#F23645"/>
<rect x="2415" y="816.7" width="10" height="7.8" fill="#F23645"/>
<rect x="2433" y="805.2" width="2" height="24.5" fill="#089981"/>
<rect x="2429" y="815.6" width="10" height="8.9" fill="#089981"/>
<rect x="2431" y="817.6" width="6" height="4.9" fill="#2962FF"/>
<rect x="2446" y="809.6" width="2" height="25.6" fill="#F23645"/>
<rect x="2442" y="815.4" width="10" height="19.8" fill="#F23645"/>
<rect x="2460" y="833.6" width="2" height="79.1" fill="#F23645"/>
<rect x="2456" y="835.2" width="10" height="57.4" fill="#F23645"/>
<rect x="2474" y="823.2" width="2" height="83.5" fill="#089981"/>
<rect x="2470" y="836.2" width="10" height="56.4" fill="#089981"/>
<rect x="2472" y="838.2" width="6" height="52.4" fill="#2962FF"/>
<rect x="2487" y="807" width="2" height="34.5" fill="#089981"/>
<rect x="2483" y="816.4" width="10" height="19.8" fill="#089981"/>
<rect x="2485" y="818.4" width="6" height="15.8" fill="#2962FF"/>
<rect x="2501" y="809.1" width="2" height="64.5" fill="#F23645"/>
<rect x="2497" y="816.4" width="10" height="46.2" fill="#F23645"/>
<rect x="2514" y="854" width="2" height="44.4" fill="#F23645"/>
<rect x="2510" y="862.6" width="10" height="26.6" fill="#F23645"/>
<rect x="2528" y="881.4" width="2" height="16.4" fill="#F23645"/>
<rect x="2524" y="887.7" width="10" height="2" fill="#F23645"/>
<rect x="2541" y="855.3" width="2" height="53" fill="#089981"/>
<rect x="2537" y="885.8" width="10" height="5.2" fill="#089981"/>
<rect x="2539" y="887.8" width="6" height="1.2" fill="#2962FF"/>
<rect x="2555" y="849.3" width="2" height="41.2" fill="#089981"/>
<rect x="2551" y="873.6" width="10" height="11.7" fill="#089981"/>
<rect x="2553" y="875.6" width="6" height="7.7" fill="#2962FF"/>
<rect x="2568" y="825.3" width="2" height="60" fill="#089981"/>
<rect x="2564" y="857.4" width="10" height="15.6" fill="#089981"/>
<rect x="2566" y="859.4" width="6" height="11.6" fill="#2962FF"/>
<rect x="2582" y="855.3" width="2" height="33.1" fill="#F23645"/>
<rect x="2578" y="857.4" width="10" height="29.2" fill="#F23645"/>
<rect x="2596" y="879.9" width="2" height="34.3" fill="#F23645"/>
<rect x="2592" y="886.4" width="10" height="4.1" fill="#F23645"/>
<rect x="2609" y="883" width="2" height="34.5" fill="#F23645"/>
<rect x="2605" y="890.1" width="10" height="12.2" fill="#F23645"/>
<rect x="2623" y="883" width="2" height="19.3" fill="#089981"/>
<rect x="2619" y="895.3" width="10" height="7" fill="#089981"/>
<rect x="2621" y="897.3" width="6" height="3" fill="#2962FF"/>
<rect x="2636" y="891.4" width="2" height="33.4" fill="#F23645"/>
<rect x="2632" y="895.3" width="10" height="20.1" fill="#F23645"/>
<rect x="2650" y="899.2" width="2" height="63.9" fill="#F23645"/>
<rect x="2646" y="914.9" width="10" height="36.5" fill="#F23645"/>
<rect x="2663" y="927.9" width="2" height="42.3" fill="#089981"/>
<rect x="2659" y="937.6" width="10" height="13.8" fill="#089981"/>
<rect x="2661" y="939.6" width="6" height="9.8" fill="#2962FF"/>
<rect x="2677" y="911" width="2" height="61.8" fill="#F23645"/>
<rect x="2673" y="937" width="10" height="30.6" fill="#F23645"/>
<rect x="2691" y="935.2" width="2" height="59.3" fill="#F23645"/>
<rect x="2687" y="967.1" width="10" height="25.3" fill="#F23645"/>
<rect x="2704" y="941.5" width="2" height="66" fill="#089981"/>
<rect x="2700" y="946.2" width="10" height="46.2" fill="#089981"/>
<rect x="2702" y="948.2" width="6" height="42.2" fill="#2962FF"/>
<rect x="2718" y="924" width="2" height="28.7" fill="#089981"/>
<rect x="2714" y="935.2" width="10" height="11" fill="#089981"/>
<rect x="2716" y="937.2" width="6" height="7" fill="#2962FF"/>
<rect x="2731" y="927.9" width="2" height="24.8" fill="#F23645"/>
<rect x="2727" y="935.2" width="10" height="5" fill="#F23645"/>
<rect x="2745" y="927.9" width="2" height="25.6" fill="#F23645"/>
<rect x="2741" y="940.2" width="10" height="8.6" fill="#F23645"/>
<rect x="2758" y="946.2" width="2" height="19.6" fill="#F23645"/>
<rect x="2754" y="947.5" width="10" height="15.1" fill="#F23645"/>
<rect x="2772" y="960.5" width="2" height="18.3" fill="#F23645"/>
<rect x="2768" y="961.8" width="10" height="5.3" fill="#F23645"/>
<rect x="2785" y="954.8" width="2" height="26.6" fill="#F23645"/>
<rect x="2781" y="967.1" width="10" height="13.5" fill="#F23645"/>
<rect x="2799" y="957.9" width="2" height="25.6" fill="#089981"/>
<rect x="2795" y="976.7" width="10" height="4.2" fill="#089981"/>
<rect x="2797" y="978.7" width="6" height="0.2" fill="#2962FF"/>
<rect x="2813" y="960" width="2" height="16.2" fill="#089981"/>
<rect x="2809" y="961.8" width="10" height="14.4" fill="#089981"/>
<rect x="2811" y="963.8" width="6" height="10.4" fill="#2962FF"/>
<rect x="2826" y="960.5" width="2" height="10" fill="#F23645"/>
<rect x="2822" y="961.8" width="10" height="4.5" fill="#F23645"/>
<rect x="2840" y="943" width="2" height="32.7" fill="#F23645"/>
<rect x="2836" y="966.3" width="10" height="7.3" fill="#F23645"/>
<rect x="2853" y="957.1" width="2" height="16.5" fill="#089981"/>
<rect x="2849" y="961.3" width="10" height="12.3" fill="#089981"/>
<rect x="2851" y="963.3" width="6" height="8.3" fill="#2962FF"/>
<rect x="2867" y="957.9" width="2" height="32.6" fill="#F23645"/>
<rect x="2863" y="961.3" width="10" height="15.7" fill="#F23645"/>
<rect x="2880" y="959.2" width="2" height="25.3" fill="#089981"/>
<rect x="2876" y="960" width="10" height="17" fill="#089981"/>
<rect x="2878" y="962" width="6" height="13" fill="#2962FF"/>
<rect x="2894" y="891.4" width="2" height="73" fill="#089981"/>
<rect x="2890" y="902.3" width="10" height="58.2" fill="#089981"/>
<rect x="2892" y="904.3" width="6" height="54.2" fill="#2962FF"/>
<rect x="2907" y="843.1" width="2" height="69.2" fill="#089981"/>
<rect x="2903" y="897.4" width="10" height="4.9" fill="#089981"/>
<rect x="2905" y="899.4" width="6" height="0.9" fill="#2962FF"/>
<rect x="2921" y="850.9" width="2" height="46.5" fill="#089981"/>
<rect x="2917" y="865.3" width="10" height="32.1" fill="#089981"/>
<rect x="2919" y="867.3" width="6" height="28.1" fill="#2962FF"/>
<rect x="2935" y="740" width="2" height="125.3" fill="#089981"/>
<rect x="2931" y="749.2" width="10" height="116.1" fill="#089981"/>
<rect x="2933" y="751.2" width="6" height="112.1" fill="#2962FF"/>
<rect x="2948" y="718" width="2" height="95.7" fill="#F23645"/>
<rect x="2944" y="749.2" width="10" height="20.2" fill="#F23645"/>
<rect x="2962" y="762.3" width="2" height="75.3" fill="#F23645"/>
<rect x="2958" y="769.4" width="10" height="63.2" fill="#F23645"/>
<rect x="2975" y="820.5" width="2" height="55.8" fill="#F23645"/>
<rect x="2971" y="832.6" width="10" height="19" fill="#F23645"/>
<rect x="2989" y="833.3" width="2" height="40.4" fill="#F23645"/>
<rect x="2985" y="851.2" width="10" height="12.3" fill="#F23645"/>
<rect x="3002" y="857.2" width="2" height="12.4" fill="#F23645"/>
<rect x="2998" y="863.5" width="10" height="2" fill="#F23645"/>
<rect x="3016" y="857.2" width="2" height="28.3" fill="#F23645"/>
<rect x="3012" y="865.4" width="10" height="8.3" fill="#F23645"/>
<rect x="3030" y="857.2" width="2" height="32.1" fill="#F23645"/>
<rect x="3026" y="873.7" width="10" height="8.2" fill="#F23645"/>
<rect x="3043" y="877.3" width="2" height="7.4" fill="#089981"/>
<rect x="3039" y="880.1" width="10" height="2" fill="#089981"/>
<line x1="19.9" y1="881" x2="3402" y2="881" stroke="#1E50FF" stroke-width="2.2" stroke-dasharray="2.2 3.8"/>
</g>
<text x="36.5" y="94" font-size="24" fill="#131722" textLength="46.71" lengthAdjust="spacingAndGlyphs">XRP</text>
<text x="89.8" y="94" font-size="24" fill="#131722" textLength="8.50" lengthAdjust="spacingAndGlyphs">/</text>
<text x="103.4" y="94" font-size="24" fill="#131722" textLength="47.63" lengthAdjust="spacingAndGlyphs">U.S.</text>
<text x="156.8" y="94" font-size="24" fill="#131722" textLength="66.10" lengthAdjust="spacingAndGlyphs">Dollar</text>
<text x="226" y="94" font-size="24" fill="#131722" textLength="13.99" lengthAdjust="spacingAndGlyphs">·</text>
<text x="243.3" y="94" font-size="24" fill="#131722" textLength="29.35" lengthAdjust="spacingAndGlyphs">1D</text>
<text x="275.9" y="94" font-size="24" fill="#131722" textLength="13.64" lengthAdjust="spacingAndGlyphs">·</text>
<text x="293.4" y="94" font-size="24" fill="#131722" textLength="104.86" lengthAdjust="spacingAndGlyphs">Coinbase</text>
<text x="412.5" y="94" font-size="24" fill="#131722" textLength="17.09" lengthAdjust="spacingAndGlyphs">O</text>
<text x="430.2" y="94" font-size="24" fill="#089981" textLength="75.90" lengthAdjust="spacingAndGlyphs">2.0517</text>
<text x="517.8" y="94" font-size="24" fill="#131722" textLength="19.39" lengthAdjust="spacingAndGlyphs">H</text>
<text x="537.3" y="94" font-size="24" fill="#089981" textLength="76.27" lengthAdjust="spacingAndGlyphs">2.0621</text>
<text x="626.1" y="94" font-size="24" fill="#131722" textLength="14.76" lengthAdjust="spacingAndGlyphs">L</text>
<text x="641" y="94" font-size="24" fill="#089981" textLength="80.43" lengthAdjust="spacingAndGlyphs">2.0455</text>
<text x="734.1" y="94" font-size="24" fill="#131722" textLength="18.36" lengthAdjust="spacingAndGlyphs">C</text>
<text x="752.3" y="94" font-size="24" fill="#089981" textLength="79.88" lengthAdjust="spacingAndGlyphs">2.0534</text>
<text x="847.1" y="94" font-size="24" fill="#131722" textLength="34.40" lengthAdjust="spacingAndGlyphs">Vol</text>
<text x="881.6" y="94" font-size="24" fill="#089981" textLength="50.64" lengthAdjust="spacingAndGlyphs">4.03</text>
<text x="935.4" y="94" font-size="24" fill="#089981" textLength="22.29" lengthAdjust="spacingAndGlyphs">M</text>
<text x="35.6" y="128" font-size="24" fill="#131722" textLength="50.87" lengthAdjust="spacingAndGlyphs">EMA</text>
<text x="95" y="128" font-size="24" fill="#131722" textLength="44.63" lengthAdjust="spacingAndGlyphs">(50,</text>
<text x="146.4" y="128" font-size="24" fill="#131722" textLength="67.23" lengthAdjust="spacingAndGlyphs">close)</text>
<text x="229.1" y="128" font-size="24" fill="#2962FF" textLength="77.67" lengthAdjust="spacingAndGlyphs">2.0700</text>
<text x="36.3" y="161.6" font-size="24" fill="#131722" textLength="126.41" lengthAdjust="spacingAndGlyphs">Supertrend</text>
<text x="170.6" y="161.6" font-size="24" fill="#131722" textLength="38.71" lengthAdjust="spacingAndGlyphs">(10,</text>
<text x="218.5" y="161.6" font-size="24" fill="#131722" textLength="22.99" lengthAdjust="spacingAndGlyphs">3)</text>
<text x="254.3" y="161.6" font-size="24" fill="#4CAF50" textLength="77.81" lengthAdjust="spacingAndGlyphs">1.9555</text>
<circle cx="354.2" cy="154.8" r="6.3" fill="none" stroke="#131722" stroke-width="1.5"/>
<line x1="348.2" y1="161.2" x2="360.6" y2="148.4" stroke="#131722" stroke-width="1.6"/>
<rect x="21" y="1093" width="3532" height="2" fill="#E0E3EB"/>
<rect x="21" y="1461" width="3532" height="2" fill="#E0E3EB"/>
<g clip-path="url(#cr)">
<rect x="21" y="1219.6" width="3381" height="193" fill="#7E57C2" fill-opacity="0.1"/>
<polygon points="20.2,1219.6 20.2,1345.9 33.8,1377.7 47.3,1349.5 60.9,1344 74.4,1309.8 88,1292.9 101.6,1298.4 115.1,1312.5 128.7,1339.7 142.2,1352.7 155.8,1355.4 169.4,1344.6 182.9,1314.7 196.5,1341.8 210,1338 223.6,1339.7 237.2,1356.8 250.7,1372.3 264.3,1386.7 277.8,1326.4 291.4,1315.5 305,1316.8 318.5,1343.8 332.1,1329.1 345.6,1313.3 359.2,1304.3 372.8,1295.1 386.3,1320.7 399.9,1298.4 413.4,1290.8 427,1305.7 440.6,1307.1 454.1,1286.7 467.7,1287 481.2,1271.7 494.8,1241.8 508.4,1208.7 521.9,1179.6 535.5,1178.8 549,1165.8 562.6,1154.3 576.2,1172.6 589.7,1160.3 603.3,1131.3 616.8,1154.3 630.4,1153.8 644,1151.1 657.5,1145.4 671.1,1145.4 684.6,1255.7 698.2,1264.4 711.8,1265.2 725.3,1261.7 738.9,1249.5 752.4,1279.3 766,1278.8 779.6,1287 793.1,1306.5 806.7,1321.5 820.2,1360.3 833.8,1317.4 847.4,1296.2 860.9,1317.4 874.5,1312.5 888,1259.8 901.6,1266.3 915.2,1279.9 928.7,1288 942.3,1299.2 955.8,1277.2 969.4,1275.5 983,1316.6 996.5,1316.6 1010.1,1310.6 1023.6,1314.7 1037.2,1320.7 1050.8,1360.9 1064.3,1339.1 1077.9,1356.8 1091.4,1311.4 1105,1314.7 1118.6,1320.1 1132.1,1350 1145.7,1319.6 1159.2,1328.3 1172.8,1328.3 1186.4,1354.6 1199.9,1354.6 1213.5,1361.4 1227,1365.5 1240.6,1338.3 1254.2,1341.8 1267.7,1352.2 1281.3,1346.7 1294.8,1347.8 1308.4,1326.9 1322,1302.4 1335.5,1308.7 1349.1,1298.4 1362.6,1284.2 1376.2,1267.9 1389.8,1264.4 1403.3,1295.7 1416.9,1306 1430.4,1293.5 1444,1281.5 1457.6,1286.1 1471.1,1315.2 1484.7,1319.6 1498.2,1321.5 1511.8,1357.6 1525.4,1365.8 1538.9,1328.8 1552.5,1373.9 1566,1360.9 1579.6,1353.3 1593.2,1332.3 1606.7,1328.8 1620.3,1338.3 1633.8,1305.2 1647.4,1281.5 1661,1281.5 1674.5,1305.7 1688.1,1305.2 1701.6,1299.7 1715.2,1342.7 1728.8,1334.2 1742.3,1355.4 1755.9,1429.3 1769.4,1426.1 1783,1381.3 1796.6,1362.2 1810.1,1378.5 1823.7,1392.1 1837.2,1403.8 1850.8,1408.4 1864.4,1389.4 1877.9,1380.4 1891.5,1351.4 1905,1364.1 1918.6,1375 1932.2,1366.3 1945.7,1335.1 1959.3,1314.7 1972.8,1303.3 1986.4,1306.5 2000,1314.7 2013.5,1328.3 2027.1,1354.1 2040.6,1334.2 2054.2,1335.1 2067.8,1329.1 2081.3,1376.6 2094.9,1394.8 2108.4,1355.4 2122,1377.7 2135.6,1352.2 2149.1,1356.8 2162.7,1337 2176.2,1302.4 2189.8,1330.2 2203.4,1330.4 2216.9,1343.2 2230.5,1357.6 2244,1358.7 2257.6,1363.6 2271.2,1373.9 2284.7,1356.8 2298.3,1377.7 2311.8,1396.2 2325.4,1403.8 2339,1403.8 2352.5,1370.4 2366.1,1323.4 2379.6,1329.1 2393.2,1323.4 2406.8,1329.1 2420.3,1334.2 2433.9,1327.7 2447.4,1339.7 2461,1370.4 2474.6,1332.3 2488.1,1320.7 2501.7,1345.4 2515.2,1358.2 2528.8,1358.7 2542.4,1354.9 2555.9,1345.1 2569.5,1334.2 2583,1351.4 2596.6,1354.1 2610.2,1361.4 2623.7,1354.9 2637.3,1369 2650.8,1388.6 2664.4,1375.8 2678,1392.9 2691.5,1404.9 2705.1,1361.4 2718.6,1352.2 2732.2,1356 2745.8,1359.5 2759.3,1369.7 2772.9,1373.1 2786.4,1382.6 2800,1377.2 2813.6,1360.9 2827.1,1363.6 2840.7,1369.8 2854.2,1354.1 2867.8,1367.7 2881.4,1345.9 2894.9,1287 2908.5,1282.6 2922,1257.6 2935.6,1200 2949.2,1220.9 2962.7,1272.6 2976.3,1287 2989.8,1296.2 3003.4,1297.8 3017,1304.3 3030.5,1311.1 3044.1,1310.6 3044.1,1219.6" fill="url(#gob)" clip-path="url(#cob)"/>
<polygon points="20.2,1412.6 20.2,1345.9 33.8,1377.7 47.3,1349.5 60.9,1344 74.4,1309.8 88,1292.9 101.6,1298.4 115.1,1312.5 128.7,1339.7 142.2,1352.7 155.8,1355.4 169.4,1344.6 182.9,1314.7 196.5,1341.8 210,1338 223.6,1339.7 237.2,1356.8 250.7,1372.3 264.3,1386.7 277.8,1326.4 291.4,1315.5 305,1316.8 318.5,1343.8 332.1,1329.1 345.6,1313.3 359.2,1304.3 372.8,1295.1 386.3,1320.7 399.9,1298.4 413.4,1290.8 427,1305.7 440.6,1307.1 454.1,1286.7 467.7,1287 481.2,1271.7 494.8,1241.8 508.4,1208.7 521.9,1179.6 535.5,1178.8 549,1165.8 562.6,1154.3 576.2,1172.6 589.7,1160.3 603.3,1131.3 616.8,1154.3 630.4,1153.8 644,1151.1 657.5,1145.4 671.1,1145.4 684.6,1255.7 698.2,1264.4 711.8,1265.2 725.3,1261.7 738.9,1249.5 752.4,1279.3 766,1278.8 779.6,1287 793.1,1306.5 806.7,1321.5 820.2,1360.3 833.8,1317.4 847.4,1296.2 860.9,1317.4 874.5,1312.5 888,1259.8 901.6,1266.3 915.2,1279.9 928.7,1288 942.3,1299.2 955.8,1277.2 969.4,1275.5 983,1316.6 996.5,1316.6 1010.1,1310.6 1023.6,1314.7 1037.2,1320.7 1050.8,1360.9 1064.3,1339.1 1077.9,1356.8 1091.4,1311.4 1105,1314.7 1118.6,1320.1 1132.1,1350 1145.7,1319.6 1159.2,1328.3 1172.8,1328.3 1186.4,1354.6 1199.9,1354.6 1213.5,1361.4 1227,1365.5 1240.6,1338.3 1254.2,1341.8 1267.7,1352.2 1281.3,1346.7 1294.8,1347.8 1308.4,1326.9 1322,1302.4 1335.5,1308.7 1349.1,1298.4 1362.6,1284.2 1376.2,1267.9 1389.8,1264.4 1403.3,1295.7 1416.9,1306 1430.4,1293.5 1444,1281.5 1457.6,1286.1 1471.1,1315.2 1484.7,1319.6 1498.2,1321.5 1511.8,1357.6 1525.4,1365.8 1538.9,1328.8 1552.5,1373.9 1566,1360.9 1579.6,1353.3 1593.2,1332.3 1606.7,1328.8 1620.3,1338.3 1633.8,1305.2 1647.4,1281.5 1661,1281.5 1674.5,1305.7 1688.1,1305.2 1701.6,1299.7 1715.2,1342.7 1728.8,1334.2 1742.3,1355.4 1755.9,1429.3 1769.4,1426.1 1783,1381.3 1796.6,1362.2 1810.1,1378.5 1823.7,1392.1 1837.2,1403.8 1850.8,1408.4 1864.4,1389.4 1877.9,1380.4 1891.5,1351.4 1905,1364.1 1918.6,1375 1932.2,1366.3 1945.7,1335.1 1959.3,1314.7 1972.8,1303.3 1986.4,1306.5 2000,1314.7 2013.5,1328.3 2027.1,1354.1 2040.6,1334.2 2054.2,1335.1 2067.8,1329.1 2081.3,1376.6 2094.9,1394.8 2108.4,1355.4 2122,1377.7 2135.6,1352.2 2149.1,1356.8 2162.7,1337 2176.2,1302.4 2189.8,1330.2 2203.4,1330.4 2216.9,1343.2 2230.5,1357.6 2244,1358.7 2257.6,1363.6 2271.2,1373.9 2284.7,1356.8 2298.3,1377.7 2311.8,1396.2 2325.4,1403.8 2339,1403.8 2352.5,1370.4 2366.1,1323.4 2379.6,1329.1 2393.2,1323.4 2406.8,1329.1 2420.3,1334.2 2433.9,1327.7 2447.4,1339.7 2461,1370.4 2474.6,1332.3 2488.1,1320.7 2501.7,1345.4 2515.2,1358.2 2528.8,1358.7 2542.4,1354.9 2555.9,1345.1 2569.5,1334.2 2583,1351.4 2596.6,1354.1 2610.2,1361.4 2623.7,1354.9 2637.3,1369 2650.8,1388.6 2664.4,1375.8 2678,1392.9 2691.5,1404.9 2705.1,1361.4 2718.6,1352.2 2732.2,1356 2745.8,1359.5 2759.3,1369.7 2772.9,1373.1 2786.4,1382.6 2800,1377.2 2813.6,1360.9 2827.1,1363.6 2840.7,1369.8 2854.2,1354.1 2867.8,1367.7 2881.4,1345.9 2894.9,1287 2908.5,1282.6 2922,1257.6 2935.6,1200 2949.2,1220.9 2962.7,1272.6 2976.3,1287 2989.8,1296.2 3003.4,1297.8 3017,1304.3 3030.5,1311.1 3044.1,1310.6 3044.1,1412.6" fill="url(#gos)" clip-path="url(#cos)"/>
<line x1="20.6" y1="1219.6" x2="3402" y2="1219.6" stroke="#787B86" stroke-width="2" stroke-dasharray="10 12"/>
<line x1="20.6" y1="1316.6" x2="3402" y2="1316.6" stroke="#787B86" stroke-opacity="0.5" stroke-width="2" stroke-dasharray="10 12"/>
<line x1="20.6" y1="1412.6" x2="3402" y2="1412.6" stroke="#787B86" stroke-width="2" stroke-dasharray="10 12"/>
<polyline points="18,1334.2 31.6,1340.5 58.8,1344.6 72.3,1344.6 99.5,1341.3 126.7,1338.6 153.9,1337 181,1333.7 208.2,1333.7 224.5,1331.3 249,1333.2 268,1339.7 289.7,1342.4 316.9,1343.2 344.1,1339.1 371.3,1334.2 398.4,1330.4 425.6,1322.8 452.8,1312 480,1305.2 493.5,1299.7 507.1,1290.2 534.3,1269.8 561.5,1246.7 588.7,1227.7 615.8,1206 643,1185.6 670.2,1167.4 683.8,1167.9 697.3,1172 718,1181 735.3,1189.1 754.3,1201.1 778.8,1215.5 792.4,1230.4 819.6,1256.3 846.7,1278 860.3,1290.2 873.9,1294.3 890.2,1293.8 909.2,1294.3 931,1297.8 944.6,1299.7 971.7,1298.9 996.2,1298.9 1009.8,1295.7 1026.1,1295.1 1053.3,1300.5 1064.1,1301.9 1080.4,1308.7 1107.6,1314.7 1134.8,1321.5 1162,1327.7 1189.1,1333.2 1224.5,1340.5 1265.2,1339.1 1297.8,1344 1319.6,1341 1338.6,1339.7 1360.3,1335.1 1379.3,1327.7 1407.2,1316 1434.3,1309.2 1461.5,1299.7 1488.7,1296.2 1496.8,1296.2 1524,1303.8 1537.6,1306.5 1556.6,1315.2 1581.1,1326.1 1608.3,1330.4 1635.4,1334.2 1649,1334.2 1662.6,1331.8 1687.1,1330.2 1706.1,1325 1727.8,1324.2 1741.4,1323.4 1768.6,1333.7 1782.2,1337 1809.3,1341.8 1828.4,1351.4 1850.1,1366.3 1877.3,1377.2 1896.3,1381.5 1918,1385.9 1931.6,1386.7 1945.2,1379.9 1972.4,1365.8 1999.6,1356.8 2026.7,1347.8 2040.3,1343.2 2060,1338.6 2068.2,1336.4 2095.3,1340.5 2108.9,1339.1 2133.4,1341 2160.5,1346.5 2182.3,1346.5 2204,1347.8 2217.6,1346.7 2250.2,1351.4 2258.4,1352.7 2272,1352.7 2282.8,1350 2310,1353.3 2331.7,1358.7 2358.9,1363.6 2386.1,1363.6 2413.3,1361.4 2440.4,1357.6 2467.6,1355.4 2494.8,1348.6 2522,1341.3 2541,1339.1 2568.2,1341.8 2589.9,1345.9 2617.1,1349.5 2644.2,1353.3 2663.3,1355.4 2690.4,1363.6 2712.2,1364.1 2740,1364.1 2756.3,1368.5 2780.8,1371.2 2807.9,1373.1 2835.1,1371.7 2865,1368.5 2878.6,1364.1 2892.2,1358.7 2905.8,1354.1 2920.7,1347.3 2934.3,1336.4 2947.9,1324.2 2961.5,1317.4 2975.1,1310.6 2988.6,1304.3 3002.2,1300.3 3015.8,1295.7 3029.4,1291.6 3043.8,1288.9" fill="none" stroke="#FDD835" stroke-width="2" stroke-linejoin="round"/>
<polyline points="20.2,1345.9 33.8,1377.7 47.3,1349.5 60.9,1344 74.4,1309.8 88,1292.9 101.6,1298.4 115.1,1312.5 128.7,1339.7 142.2,1352.7 155.8,1355.4 169.4,1344.6 182.9,1314.7 196.5,1341.8 210,1338 223.6,1339.7 237.2,1356.8 250.7,1372.3 264.3,1386.7 277.8,1326.4 291.4,1315.5 305,1316.8 318.5,1343.8 332.1,1329.1 345.6,1313.3 359.2,1304.3 372.8,1295.1 386.3,1320.7 399.9,1298.4 413.4,1290.8 427,1305.7 440.6,1307.1 454.1,1286.7 467.7,1287 481.2,1271.7 494.8,1241.8 508.4,1208.7 521.9,1179.6 535.5,1178.8 549,1165.8 562.6,1154.3 576.2,1172.6 589.7,1160.3 603.3,1131.3 616.8,1154.3 630.4,1153.8 644,1151.1 657.5,1145.4 671.1,1145.4 684.6,1255.7 698.2,1264.4 711.8,1265.2 725.3,1261.7 738.9,1249.5 752.4,1279.3 766,1278.8 779.6,1287 793.1,1306.5 806.7,1321.5 820.2,1360.3 833.8,1317.4 847.4,1296.2 860.9,1317.4 874.5,1312.5 888,1259.8 901.6,1266.3 915.2,1279.9 928.7,1288 942.3,1299.2 955.8,1277.2 969.4,1275.5 983,1316.6 996.5,1316.6 1010.1,1310.6 1023.6,1314.7 1037.2,1320.7 1050.8,1360.9 1064.3,1339.1 1077.9,1356.8 1091.4,1311.4 1105,1314.7 1118.6,1320.1 1132.1,1350 1145.7,1319.6 1159.2,1328.3 1172.8,1328.3 1186.4,1354.6 1199.9,1354.6 1213.5,1361.4 1227,1365.5 1240.6,1338.3 1254.2,1341.8 1267.7,1352.2 1281.3,1346.7 1294.8,1347.8 1308.4,1326.9 1322,1302.4 1335.5,1308.7 1349.1,1298.4 1362.6,1284.2 1376.2,1267.9 1389.8,1264.4 1403.3,1295.7 1416.9,1306 1430.4,1293.5 1444,1281.5 1457.6,1286.1 1471.1,1315.2 1484.7,1319.6 1498.2,1321.5 1511.8,1357.6 1525.4,1365.8 1538.9,1328.8 1552.5,1373.9 1566,1360.9 1579.6,1353.3 1593.2,1332.3 1606.7,1328.8 1620.3,1338.3 1633.8,1305.2 1647.4,1281.5 1661,1281.5 1674.5,1305.7 1688.1,1305.2 1701.6,1299.7 1715.2,1342.7 1728.8,1334.2 1742.3,1355.4 1755.9,1429.3 1769.4,1426.1 1783,1381.3 1796.6,1362.2 1810.1,1378.5 1823.7,1392.1 1837.2,1403.8 1850.8,1408.4 1864.4,1389.4 1877.9,1380.4 1891.5,1351.4 1905,1364.1 1918.6,1375 1932.2,1366.3 1945.7,1335.1 1959.3,1314.7 1972.8,1303.3 1986.4,1306.5 2000,1314.7 2013.5,1328.3 2027.1,1354.1 2040.6,1334.2 2054.2,1335.1 2067.8,1329.1 2081.3,1376.6 2094.9,1394.8 2108.4,1355.4 2122,1377.7 2135.6,1352.2 2149.1,1356.8 2162.7,1337 2176.2,1302.4 2189.8,1330.2 2203.4,1330.4 2216.9,1343.2 2230.5,1357.6 2244,1358.7 2257.6,1363.6 2271.2,1373.9 2284.7,1356.8 2298.3,1377.7 2311.8,1396.2 2325.4,1403.8 2339,1403.8 2352.5,1370.4 2366.1,1323.4 2379.6,1329.1 2393.2,1323.4 2406.8,1329.1 2420.3,1334.2 2433.9,1327.7 2447.4,1339.7 2461,1370.4 2474.6,1332.3 2488.1,1320.7 2501.7,1345.4 2515.2,1358.2 2528.8,1358.7 2542.4,1354.9 2555.9,1345.1 2569.5,1334.2 2583,1351.4 2596.6,1354.1 2610.2,1361.4 2623.7,1354.9 2637.3,1369 2650.8,1388.6 2664.4,1375.8 2678,1392.9 2691.5,1404.9 2705.1,1361.4 2718.6,1352.2 2732.2,1356 2745.8,1359.5 2759.3,1369.7 2772.9,1373.1 2786.4,1382.6 2800,1377.2 2813.6,1360.9 2827.1,1363.6 2840.7,1369.8 2854.2,1354.1 2867.8,1367.7 2881.4,1345.9 2894.9,1287 2908.5,1282.6 2922,1257.6 2935.6,1200 2949.2,1220.9 2962.7,1272.6 2976.3,1287 2989.8,1296.2 3003.4,1297.8 3017,1304.3 3030.5,1311.1 3044.1,1310.6" fill="none" stroke="#7E57C2" stroke-width="2.2" stroke-linejoin="round"/>
</g>
<text x="35.6" y="1134.5" font-size="24" fill="#131722" textLength="37.86" lengthAdjust="spacingAndGlyphs">RSI</text>
<text x="81.6" y="1134.5" font-size="24" fill="#131722" textLength="40.25" lengthAdjust="spacingAndGlyphs">(14,</text>
<text x="128.8" y="1134.5" font-size="24" fill="#131722" textLength="68.59" lengthAdjust="spacingAndGlyphs">close)</text>
<text x="211.7" y="1134.5" font-size="24" fill="#7E57C2" textLength="61.03" lengthAdjust="spacingAndGlyphs">51.20</text>
<text x="287.2" y="1134.5" font-size="24" fill="#F9CE1D" textLength="61.40" lengthAdjust="spacingAndGlyphs">55.74</text>
<g clip-path="url(#ca)">
<polyline points="20.2,1766.7 60.1,1748.5 113.1,1778.4 128,1778.9 168.8,1763.4 224.5,1791.1 235.4,1792 249,1787.6 264,1777 278.3,1776.2 303.3,1782.4 318.3,1781.1 332.7,1778.1 346.8,1780.3 386.2,1790.6 399.8,1792 414.7,1792 440.6,1796.6 454.1,1794.7 480,1782.2 493.6,1771.6 508.5,1753.9 522.1,1729.5 535.7,1704.2 549.3,1680.5 562.8,1659.3 576.4,1640.3 590,1620.8 603.6,1598.2 617.2,1573.8 630.8,1555.5 644.4,1536.5 658,1518 670.2,1499.6 685.1,1506.6 698.7,1516.7 712.2,1528.4 738,1542.5 751.6,1546.6 765.2,1553.4 792.4,1572.4 806,1586.5 833.2,1626.7 848.1,1640.3 860.3,1653.4 873.9,1665.3 887.5,1665.6 913.3,1664 926.9,1666.4 941.8,1667 955.4,1668 969,1668 982.6,1681.1 996.2,1691.4 1009.8,1700.7 1023.4,1709.6 1037,1719.1 1050.5,1723.2 1064.1,1725.4 1077.7,1727.3 1091.3,1738.2 1104.9,1748.5 1118.5,1755.3 1132.1,1758.5 1145.7,1764 1159.2,1768 1171.5,1770.2 1186.4,1764.8 1200,1759.9 1213.6,1757.7 1227.2,1751.7 1240.8,1749 1254.3,1747.7 1267.9,1745.5 1293.8,1745 1308.7,1752.3 1322.3,1759.1 1335.9,1762.6 1349.5,1766.7 1361.7,1768 1376.6,1763.4 1390.3,1757.2 1403.9,1758.3 1416.7,1764 1430.3,1769.4 1443.9,1770.8 1457.4,1769.9 1471,1776.7 1484.6,1783 1497.7,1789 1511.8,1780.3 1526.7,1772.1 1539,1772.7 1552.6,1769.4 1567.5,1765.3 1581.1,1763.4 1592,1764.5 1605.5,1770.2 1619.1,1773.5 1632.7,1780.3 1646.3,1780.3 1659.9,1779.7 1673.5,1783.8 1687.1,1787.1 1700.7,1789.8 1714.2,1793.3 1727.8,1794.7 1741.4,1792.5 1755,1764 1768.6,1738.2 1782.2,1720 1795.8,1705.5 1809.3,1690.1 1822.9,1675.1 1836.5,1659.9 1850.1,1643 1863.7,1630.3 1877.3,1619.1 1890.9,1617.2 1904.5,1615.1 1918,1611.8 1931.6,1607.7 1945.2,1610.4 1958.8,1619.1 1972.4,1630.3 1986,1642.2 1999.6,1651.2 2013.2,1658.5 2026.7,1659.3 2040.3,1659.9 2053.9,1660.4 2067.6,1663.4 2081.2,1658 2094.8,1647.7 2108.4,1639.8 2122,1634.9 2135.5,1629.5 2148.3,1624 2161.9,1624 2175.5,1636.3 2189.9,1647.9 2203.5,1655.3 2216.3,1667.5 2229.8,1676.2 2243.4,1683.8 2257,1687.9 2270.6,1689.8 2284.2,1691.1 2297.8,1688.4 2311.4,1684.3 2325,1675.1 2338.5,1665.9 2352.1,1667 2367.1,1682.4 2379.3,1694.7 2392.9,1706.9 2406.5,1717 2420.1,1727.3 2433.7,1738.2 2447.2,1749 2460.8,1748.5 2474.4,1749.8 2488,1753.1 2501.6,1752.6 2515.2,1749 2528.8,1746.3 2542.3,1747.7 2555.9,1751.2 2569.5,1758 2583.1,1765.3 2596.7,1766.7 2610.3,1767.5 2623.9,1768.6 2637.4,1766.7 2651,1758.5 2664.6,1750.4 2678.2,1746.8 2691.8,1740.9 2705.4,1733.3 2719,1730.5 2732.6,1728.6 2746.1,1725.9 2759,1721.3 2772.6,1715.1 2798.4,1707.7 2825.6,1700.7 2853.6,1707.4 2881.3,1705.5 2894.3,1711.5 2921.5,1705 2935.1,1690.6 2947.9,1674.3 2962.3,1666.1 2989.5,1667 3003,1667.5 3016.6,1672.9 3030.2,1677.6 3044.3,1681.6" fill="none" stroke="#F23645" stroke-width="2.2" stroke-linejoin="round"/>
</g>
<text x="37.5" y="1502.6" font-size="24" fill="#131722" textLength="46.72" lengthAdjust="spacingAndGlyphs">ADX</text>
<text x="93" y="1502.6" font-size="24" fill="#131722" textLength="41.01" lengthAdjust="spacingAndGlyphs">(14,</text>
<text x="141" y="1502.6" font-size="24" fill="#131722" textLength="33.72" lengthAdjust="spacingAndGlyphs">14)</text>
<text x="190.4" y="1502.6" font-size="24" fill="#F23645" textLength="64.55" lengthAdjust="spacingAndGlyphs">28.64</text>
<defs><clipPath id="cpx"><rect x="3402" y="55.3" width="151" height="1037.7"/></clipPath></defs>
<g clip-path="url(#cpx)">
<text x="3423.8" y="197.9" font-size="32.5" fill="#131722" textLength="105.67" lengthAdjust="spacingAndGlyphs">3.6000</text>
<text x="3423.8" y="287.7" font-size="32.5" fill="#131722" textLength="105.67" lengthAdjust="spacingAndGlyphs">3.4000</text>
<text x="3423.8" y="377.5" font-size="32.5" fill="#131722" textLength="105.67" lengthAdjust="spacingAndGlyphs">3.2000</text>
<text x="3423.8" y="467.3" font-size="32.5" fill="#131722" textLength="105.67" lengthAdjust="spacingAndGlyphs">3.0000</text>
<text x="3423.4" y="557.1" font-size="32.5" fill="#131722" textLength="106.10" lengthAdjust="spacingAndGlyphs">2.8000</text>
<text x="3423.4" y="647" font-size="32.5" fill="#131722" textLength="106.10" lengthAdjust="spacingAndGlyphs">2.6000</text>
<text x="3423.4" y="736.8" font-size="32.5" fill="#131722" textLength="106.10" lengthAdjust="spacingAndGlyphs">2.4000</text>
<text x="3423.4" y="826.6" font-size="32.5" fill="#131722" textLength="106.10" lengthAdjust="spacingAndGlyphs">2.2000</text>
<text x="3423.4" y="916.4" font-size="32.5" fill="#131722" textLength="106.10" lengthAdjust="spacingAndGlyphs">2.0000</text>
<text x="3422.4" y="1006.2" font-size="32.5" fill="#131722" textLength="107.03" lengthAdjust="spacingAndGlyphs">1.8000</text>
<text x="3422.4" y="1096" font-size="32.5" fill="#131722" textLength="107.03" lengthAdjust="spacingAndGlyphs">1.6000</text>
</g>
<rect x="3410.3" y="62.1" width="134.5" height="51" rx="8" fill="#fff" stroke="#E9EBEF" stroke-width="1.5"/>
<text x="3427.5" y="95.6" font-size="24" fill="#131722" textLength="50.38" lengthAdjust="spacingAndGlyphs">USD</text>
<path d="M3403.8 695.1 H3539.5 a4 4 0 0 1 4 4 V736.5 a4 4 0 0 1 -4 4 H3403.8 Z" fill="#FF9800"/>
<text x="3424.2" y="729" font-size="32.5" fill="#131722" textLength="107.13" lengthAdjust="spacingAndGlyphs">2.4170</text>
<path d="M3403.8 985.3 H3539.5 a4 4 0 0 1 4 4 V1026.7 a4 4 0 0 1 -4 4 H3403.8 Z" fill="#9C27B0"/>
<text x="3425.4" y="1018.8" font-size="32.5" fill="#FFFFFF" textLength="104.73" lengthAdjust="spacingAndGlyphs">1.7702</text>
<text x="3422.6" y="1185.1" font-size="32.5" fill="#131722" textLength="87.80" lengthAdjust="spacingAndGlyphs">80.00</text>
<text x="3422.3" y="1281" font-size="32.5" fill="#131722" textLength="88.06" lengthAdjust="spacingAndGlyphs">60.00</text>
<text x="3423.3" y="1376.8" font-size="32.5" fill="#131722" textLength="87.06" lengthAdjust="spacingAndGlyphs">40.00</text>
<text x="3423.6" y="1611.9" font-size="32.5" fill="#131722" textLength="87.16" lengthAdjust="spacingAndGlyphs">40.00</text>
<text x="3422.6" y="1755.2" font-size="32.5" fill="#131722" textLength="88.15" lengthAdjust="spacingAndGlyphs">20.00</text>
<text x="366" y="1874.5" font-size="32.5" fill="#131722" textLength="41.91" lengthAdjust="spacingAndGlyphs">Jul</text>
<text x="779.1" y="1874.5" font-size="32.5" fill="#131722" textLength="57.96" lengthAdjust="spacingAndGlyphs">Aug</text>
<text x="1197.8" y="1874.5" font-size="32.5" fill="#131722" textLength="57.84" lengthAdjust="spacingAndGlyphs">Sep</text>
<text x="1606.6" y="1874.5" font-size="32.5" fill="#131722" textLength="52.13" lengthAdjust="spacingAndGlyphs">Oct</text>
<text x="2023.9" y="1874.5" font-size="32.5" fill="#131722" textLength="57.88" lengthAdjust="spacingAndGlyphs">Nov</text>
<text x="2430.7" y="1874.5" font-size="32.5" fill="#131722" textLength="58.68" lengthAdjust="spacingAndGlyphs">Dec</text>
<text x="2839.7" y="1874.5" font-size="32.5" fill="#131722" font-weight="bold" textLength="84.18" lengthAdjust="spacingAndGlyphs">2026</text>
<text x="3272.9" y="1874.5" font-size="32.5" fill="#131722" textLength="56.57" lengthAdjust="spacingAndGlyphs">Feb</text>
<path d="M24.1 1944.1 H47.9 V1973.8 H36.1 V1955.9 H24.1 Z" fill="#131313"/>
<circle cx="57.85" cy="1950" r="5.9" fill="#131313"/>
<path d="M70.2 1944.1 H83.7 L71.9 1973.8 H58.1 Z" fill="#131313"/>
<text x="97.5" y="1973.7" font-size="43" fill="#131313" font-weight="bold" textLength="242.08" lengthAdjust="spacingAndGlyphs">TradingView</text>
</svg></body></html>
